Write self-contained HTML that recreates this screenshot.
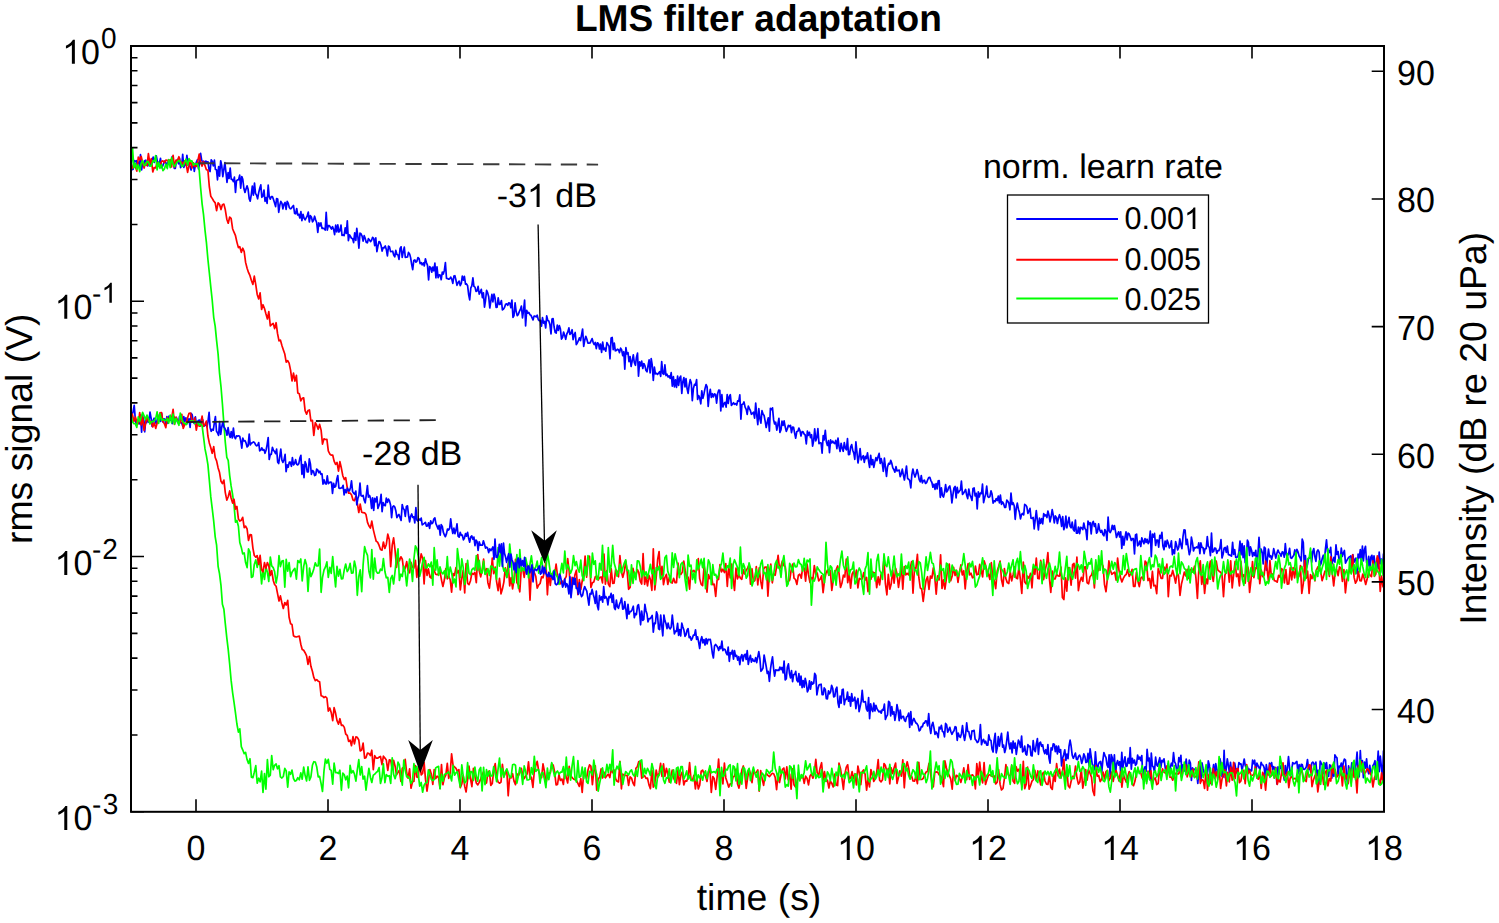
<!DOCTYPE html>
<html><head><meta charset="utf-8">
<style>
html,body{margin:0;padding:0;background:#fff;overflow:hidden;}
svg{display:block;}
text{font-family:"Liberation Sans",sans-serif;fill:#000;}
</style></head>
<body>
<svg width="1499" height="923" viewBox="0 0 1499 923" text-rendering="geometricPrecision">
<defs><path id="one" d="M 763 -0.0 L 583 -0.0 L 583 -1097.9 C 540 -1058.7 484 -1019.4 414 -980.2 C 344 -940.9 281 -911.3 225 -891.2 L 225 -1057.7 C 326 -1102.7 414 -1158.2 489 -1222.3 C 564 -1286.5 617 -1348.7 648 -1409.0 L 763 -1409.0 Z"/></defs>
<rect width="1499" height="923" fill="#fff"/>
<g>
<path d="M131.0 163.2 132.1 169.7 133.1 169.3 134.2 160.5 135.2 161.5 136.3 160.6 137.3 165.0 138.4 162.2 139.4 166.2 140.5 154.7 141.6 169.9 142.6 163.1 143.7 165.1 144.7 160.8 145.8 160.2 146.8 164.3 147.9 165.9 148.9 162.0 150.0 161.9 151.1 165.1 152.1 160.5 153.2 157.1 154.2 162.4 155.3 159.0 156.3 155.8 157.4 161.5 158.4 162.7 159.5 162.8 160.5 158.3 161.6 167.7 162.7 166.0 163.7 163.3 164.8 161.0 165.8 162.4 166.9 167.0 167.9 162.1 169.0 162.0 170.0 163.6 171.1 165.3 172.2 156.7 173.2 160.8 174.3 168.3 175.3 168.4 176.4 161.3 177.4 159.7 178.5 163.8 179.5 158.0 180.6 167.7 181.7 165.6 182.7 154.3 183.8 167.4 184.8 164.9 185.9 164.9 186.9 155.4 188.0 164.2 189.0 164.5 190.1 166.7 191.1 170.0 192.2 163.4 193.3 163.2 194.3 171.4 195.4 165.1 196.4 162.1 197.5 159.7 198.5 169.0 199.6 163.6 200.6 153.3 201.7 160.5 202.8 161.8 203.8 161.2 204.9 162.4 205.9 161.1 207.0 162.5 208.0 161.8 209.1 169.8 210.1 171.5 211.2 159.8 212.2 161.2 213.3 165.8 214.4 160.1 215.4 169.4 216.5 169.7 217.5 179.8 218.6 166.7 219.6 176.1 220.7 160.8 221.7 165.4 222.8 176.7 223.9 169.2 224.9 162.7 226.0 172.9 227.0 182.5 228.1 172.7 229.1 178.5 230.2 168.0 231.2 179.3 232.3 179.3 233.4 181.5 234.4 177.1 235.5 192.5 236.5 180.7 237.6 179.9 238.6 179.7 239.7 175.2 240.7 188.1 241.8 176.5 242.8 179.4 243.9 188.5 245.0 192.5 246.0 189.1 247.1 185.9 248.1 189.3 249.2 198.6 250.2 201.2 251.3 194.6 252.3 186.0 253.4 195.2 254.5 183.0 255.5 193.4 256.6 195.2 257.6 198.8 258.7 192.6 259.7 188.5 260.8 184.9 261.8 197.3 262.9 196.1 264.0 190.0 265.0 201.3 266.1 197.6 267.1 203.4 268.2 185.2 269.2 196.6 270.3 199.2 271.3 196.5 272.4 196.6 273.4 199.2 274.5 202.7 275.6 206.6 276.6 198.5 277.7 199.0 278.7 212.3 279.8 205.1 280.8 201.4 281.9 203.1 282.9 208.9 284.0 204.2 285.1 202.5 286.1 209.4 287.2 201.4 288.2 203.1 289.3 207.5 290.3 208.8 291.4 208.4 292.4 206.6 293.5 205.5 294.6 213.5 295.6 213.8 296.7 208.5 297.7 215.0 298.8 214.3 299.8 218.0 300.9 211.7 301.9 220.6 303.0 214.3 304.0 218.0 305.1 219.9 306.2 217.9 307.2 216.0 308.3 212.1 309.3 222.0 310.4 215.7 311.4 217.0 312.5 221.8 313.5 220.4 314.6 216.2 315.7 220.0 316.7 222.8 317.8 232.5 318.8 222.9 319.9 225.9 320.9 222.9 322.0 228.4 323.0 228.2 324.1 228.6 325.2 230.1 326.2 212.4 327.3 230.1 328.3 225.5 329.4 225.6 330.4 227.3 331.5 229.0 332.5 226.7 333.6 229.3 334.6 234.7 335.7 225.1 336.8 231.9 337.8 224.9 338.9 232.1 339.9 230.8 341.0 225.2 342.0 235.4 343.1 234.8 344.1 235.7 345.2 227.8 346.3 233.5 347.3 220.8 348.4 240.7 349.4 234.8 350.5 236.5 351.5 238.2 352.6 238.8 353.6 242.6 354.7 232.8 355.8 240.4 356.8 228.3 357.9 237.0 358.9 248.1 360.0 233.1 361.0 233.8 362.1 236.2 363.1 241.2 364.2 235.7 365.2 238.4 366.3 242.4 367.4 242.8 368.4 238.7 369.5 239.9 370.5 241.7 371.6 240.3 372.6 237.3 373.7 238.3 374.7 245.7 375.8 237.9 376.9 251.7 377.9 246.4 379.0 241.5 380.0 242.2 381.1 245.6 382.1 251.1 383.2 247.5 384.2 247.9 385.3 246.0 386.3 249.4 387.4 255.8 388.5 246.1 389.5 246.9 390.6 251.6 391.6 251.5 392.7 251.2 393.7 255.0 394.8 256.8 395.8 250.4 396.9 254.4 398.0 254.9 399.0 259.3 400.1 248.4 401.1 246.8 402.2 257.3 403.2 252.2 404.3 247.2 405.3 257.3 406.4 257.2 407.5 257.0 408.5 252.4 409.6 253.9 410.6 257.6 411.7 264.7 412.7 269.7 413.8 260.4 414.8 259.9 415.9 262.2 416.9 261.3 418.0 257.6 419.1 258.7 420.1 263.7 421.2 262.6 422.2 264.8 423.3 262.8 424.3 265.9 425.4 258.8 426.4 262.5 427.5 265.4 428.6 280.0 429.6 266.7 430.7 267.4 431.7 272.2 432.8 267.2 433.8 270.8 434.9 263.2 435.9 277.8 437.0 266.9 438.1 277.6 439.1 274.9 440.2 275.1 441.2 279.7 442.3 272.0 443.3 274.0 444.4 270.2 445.4 262.6 446.5 278.5 447.5 278.5 448.6 279.2 449.7 278.9 450.7 277.1 451.8 279.2 452.8 283.4 453.9 276.1 454.9 275.7 456.0 280.3 457.0 285.3 458.1 282.6 459.2 281.1 460.2 285.6 461.3 283.4 462.3 276.1 463.4 280.1 464.4 276.4 465.5 284.2 466.5 283.9 467.6 285.7 468.7 294.9 469.7 299.9 470.8 287.8 471.8 286.0 472.9 277.9 473.9 286.4 475.0 287.1 476.0 291.4 477.1 290.9 478.1 286.4 479.2 294.2 480.3 292.1 481.3 289.4 482.4 297.7 483.4 292.8 484.5 307.1 485.5 300.5 486.6 290.4 487.6 292.6 488.7 296.7 489.8 308.0 490.8 301.3 491.9 294.3 492.9 301.8 494.0 294.0 495.0 297.7 496.1 307.5 497.1 307.1 498.2 297.9 499.3 304.5 500.3 304.1 501.4 300.5 502.4 309.9 503.5 309.0 504.5 307.6 505.6 304.2 506.6 303.8 507.7 305.3 508.7 302.9 509.8 303.0 510.9 307.7 511.9 300.1 513.0 317.4 514.0 315.5 515.1 302.8 516.1 311.3 517.2 315.6 518.2 314.6 519.3 311.6 520.4 309.4 521.4 306.1 522.5 318.0 523.5 311.0 524.6 300.2 525.6 325.9 526.7 310.3 527.7 313.2 528.8 312.4 529.9 314.7 530.9 315.2 532.0 317.7 533.0 319.9 534.1 316.1 535.1 316.1 536.2 316.9 537.2 315.2 538.3 319.6 539.3 320.7 540.4 320.4 541.5 326.2 542.5 317.6 543.6 323.1 544.6 321.3 545.7 328.0 546.7 315.9 547.8 320.4 548.8 321.0 549.9 324.6 551.0 334.0 552.0 319.1 553.1 318.6 554.1 327.0 555.2 332.5 556.2 333.0 557.3 325.0 558.3 330.3 559.4 325.7 560.4 329.0 561.5 339.1 562.6 337.3 563.6 332.0 564.7 335.4 565.7 339.3 566.8 334.0 567.8 332.0 568.9 327.9 569.9 334.4 571.0 333.4 572.1 329.7 573.1 339.6 574.2 334.7 575.2 332.5 576.3 344.6 577.3 343.0 578.4 340.7 579.4 337.9 580.5 340.5 581.6 334.7 582.6 329.0 583.7 346.4 584.7 340.5 585.8 336.3 586.8 339.1 587.9 343.1 588.9 343.2 590.0 343.0 591.0 341.0 592.1 338.6 593.2 342.6 594.2 344.5 595.3 342.5 596.3 348.7 597.4 342.8 598.4 343.4 599.5 349.0 600.5 344.2 601.6 352.4 602.7 342.0 603.7 349.6 604.8 348.2 605.8 351.2 606.9 342.6 607.9 344.4 609.0 346.1 610.0 358.8 611.1 338.0 612.2 337.5 613.2 349.7 614.3 343.2 615.3 350.8 616.4 350.4 617.4 349.2 618.5 349.8 619.5 352.6 620.6 348.1 621.6 349.6 622.7 355.6 623.8 351.7 624.8 369.1 625.9 347.7 626.9 353.8 628.0 352.7 629.0 361.6 630.1 356.6 631.1 366.5 632.2 360.8 633.3 354.8 634.3 362.5 635.4 365.3 636.4 357.8 637.5 353.1 638.5 376.2 639.6 361.8 640.6 366.0 641.7 361.2 642.8 368.5 643.8 363.5 644.9 365.6 645.9 370.2 647.0 371.8 648.0 366.0 649.1 359.9 650.1 372.9 651.2 358.6 652.2 365.0 653.3 380.4 654.4 367.0 655.4 373.8 656.5 373.4 657.5 374.3 658.6 373.2 659.6 371.6 660.7 376.3 661.7 361.6 662.8 373.5 663.9 374.3 664.9 364.9 666.0 375.6 667.0 374.2 668.1 377.0 669.1 375.9 670.2 378.3 671.2 372.7 672.3 386.1 673.4 376.6 674.4 386.8 675.5 379.8 676.5 387.5 677.6 376.1 678.6 385.5 679.7 378.0 680.7 376.1 681.8 393.4 682.8 381.9 683.9 377.5 685.0 387.0 686.0 378.5 687.1 388.9 688.1 393.4 689.2 384.8 690.2 379.7 691.3 383.0 692.3 400.7 693.4 388.5 694.5 384.4 695.5 385.2 696.6 379.6 697.6 399.5 698.7 395.6 699.7 397.8 700.8 403.8 701.8 390.9 702.9 398.3 704.0 393.7 705.0 388.6 706.1 384.5 707.1 386.9 708.2 406.4 709.2 395.2 710.3 389.3 711.3 397.5 712.4 393.7 713.4 396.9 714.5 393.9 715.6 394.5 716.6 403.2 717.7 393.4 718.7 390.2 719.8 390.4 720.8 411.0 721.9 394.7 722.9 407.0 724.0 403.6 725.1 402.3 726.1 407.1 727.2 394.7 728.2 403.5 729.3 396.7 730.3 394.7 731.4 405.4 732.4 404.2 733.5 402.7 734.5 404.3 735.6 403.6 736.7 405.1 737.7 400.8 738.8 401.1 739.8 394.8 740.9 419.2 741.9 404.6 743.0 404.1 744.0 401.9 745.1 407.1 746.2 409.3 747.2 414.3 748.3 406.0 749.3 408.4 750.4 410.7 751.4 414.3 752.5 413.4 753.5 412.2 754.6 418.2 755.7 403.1 756.7 414.6 757.8 424.7 758.8 408.7 759.9 418.7 760.9 423.1 762.0 410.7 763.0 413.9 764.1 415.5 765.1 420.9 766.2 427.5 767.3 421.9 768.3 417.8 769.4 431.2 770.4 408.3 771.5 409.6 772.5 407.8 773.6 419.7 774.6 424.0 775.7 422.2 776.8 430.1 777.8 424.9 778.9 418.3 779.9 432.4 781.0 429.6 782.0 421.2 783.1 425.4 784.1 420.9 785.2 426.8 786.3 431.4 787.3 429.0 788.4 425.3 789.4 426.7 790.5 425.3 791.5 432.7 792.6 427.0 793.6 427.3 794.7 433.6 795.7 438.2 796.8 431.5 797.9 431.2 798.9 428.0 800.0 430.8 801.0 436.0 802.1 431.6 803.1 431.9 804.2 434.2 805.2 435.0 806.3 443.9 807.4 431.1 808.4 435.3 809.5 432.3 810.5 437.7 811.6 434.7 812.6 446.1 813.7 440.6 814.7 428.8 815.8 440.8 816.9 437.3 817.9 428.7 819.0 443.7 820.0 442.7 821.1 443.1 822.1 453.1 823.2 435.5 824.2 439.9 825.3 430.4 826.3 441.5 827.4 445.5 828.5 440.7 829.5 452.7 830.6 439.9 831.6 443.0 832.7 441.1 833.7 442.8 834.8 443.5 835.8 440.3 836.9 448.6 838.0 438.0 839.0 446.4 840.1 451.5 841.1 443.3 842.2 448.3 843.2 451.3 844.3 442.6 845.3 448.1 846.4 449.8 847.5 438.7 848.5 454.7 849.6 454.4 850.6 447.1 851.7 444.6 852.7 450.2 853.8 453.1 854.8 459.3 855.9 441.8 856.9 451.9 858.0 463.0 859.1 456.3 860.1 448.7 861.2 459.8 862.2 457.5 863.3 455.7 864.3 462.3 865.4 456.3 866.4 458.5 867.5 452.8 868.6 461.3 869.6 467.4 870.7 455.3 871.7 464.7 872.8 459.5 873.8 467.3 874.9 461.9 875.9 457.6 877.0 460.6 878.1 456.5 879.1 453.4 880.2 463.5 881.2 458.7 882.3 463.4 883.3 471.3 884.4 458.2 885.4 466.8 886.5 476.5 887.5 466.9 888.6 463.4 889.7 464.2 890.7 460.4 891.8 463.4 892.8 467.9 893.9 469.7 894.9 472.2 896.0 466.7 897.0 471.0 898.1 470.5 899.2 470.1 900.2 476.7 901.3 473.7 902.3 469.2 903.4 475.1 904.4 480.0 905.5 472.7 906.5 466.0 907.6 478.5 908.7 479.2 909.7 480.5 910.8 487.9 911.8 475.2 912.9 469.0 913.9 473.4 915.0 477.1 916.0 474.1 917.1 469.5 918.1 473.7 919.2 479.7 920.3 481.8 921.3 475.5 922.4 483.0 923.4 480.6 924.5 480.2 925.5 483.5 926.6 482.6 927.6 480.0 928.7 477.5 929.8 477.3 930.8 480.3 931.9 482.5 932.9 487.2 934.0 484.2 935.0 489.4 936.1 483.5 937.1 488.8 938.2 480.9 939.2 480.7 940.3 497.3 941.4 487.8 942.4 495.5 943.5 497.0 944.5 492.8 945.6 484.5 946.6 492.0 947.7 490.5 948.7 487.2 949.8 486.0 950.9 492.0 951.9 502.8 953.0 494.2 954.0 488.0 955.1 486.4 956.1 498.0 957.2 487.3 958.2 492.9 959.3 491.2 960.4 490.0 961.4 481.1 962.5 494.4 963.5 493.2 964.6 491.6 965.6 489.4 966.7 495.3 967.7 498.6 968.8 489.0 969.8 494.6 970.9 497.1 972.0 500.5 973.0 488.4 974.1 487.9 975.1 495.9 976.2 493.3 977.2 508.9 978.3 491.9 979.3 497.0 980.4 493.1 981.5 493.6 982.5 484.2 983.6 502.6 984.6 498.0 985.7 494.1 986.7 486.2 987.8 496.6 988.8 497.4 989.9 496.6 991.0 490.8 992.0 493.9 993.1 503.2 994.1 500.8 995.2 501.5 996.2 498.5 997.3 500.6 998.3 496.0 999.4 502.9 1000.4 495.2 1001.5 504.3 1002.6 502.0 1003.6 503.7 1004.7 507.5 1005.7 507.4 1006.8 500.0 1007.8 501.2 1008.9 503.4 1009.9 509.8 1011.0 493.1 1012.1 504.6 1013.1 502.7 1014.2 505.7 1015.2 519.3 1016.3 508.2 1017.3 503.1 1018.4 509.2 1019.4 512.3 1020.5 518.9 1021.6 514.4 1022.6 513.5 1023.7 514.9 1024.7 504.4 1025.8 505.1 1026.8 506.6 1027.9 513.4 1028.9 511.2 1030.0 508.3 1031.0 518.1 1032.1 518.4 1033.2 517.5 1034.2 529.0 1035.3 519.1 1036.3 510.6 1037.4 520.7 1038.4 530.0 1039.5 518.2 1040.5 523.3 1041.6 518.7 1042.7 523.9 1043.7 513.6 1044.8 515.9 1045.8 514.8 1046.9 517.5 1047.9 511.0 1049.0 515.2 1050.0 521.8 1051.1 516.8 1052.2 509.6 1053.2 515.0 1054.3 523.0 1055.3 515.9 1056.4 517.4 1057.4 523.5 1058.5 518.0 1059.5 514.7 1060.6 518.6 1061.6 526.5 1062.7 516.6 1063.8 529.6 1064.8 526.7 1065.9 516.2 1066.9 527.9 1068.0 522.4 1069.0 517.4 1070.1 526.3 1071.1 527.9 1072.2 522.1 1073.3 529.5 1074.3 531.0 1075.4 520.1 1076.4 533.2 1077.5 533.1 1078.5 527.0 1079.6 533.7 1080.6 527.4 1081.7 527.7 1082.8 529.7 1083.8 523.0 1084.9 528.4 1085.9 529.8 1087.0 539.7 1088.0 521.0 1089.1 524.5 1090.1 522.7 1091.2 533.9 1092.2 523.1 1093.3 521.4 1094.4 526.5 1095.4 523.7 1096.5 533.2 1097.5 531.7 1098.6 523.9 1099.6 529.6 1100.7 532.3 1101.7 530.3 1102.8 534.2 1103.9 535.8 1104.9 529.5 1106.0 531.8 1107.0 540.4 1108.1 517.0 1109.1 530.7 1110.2 532.6 1111.2 530.4 1112.3 525.3 1113.3 529.5 1114.4 525.5 1115.5 531.3 1116.5 537.5 1117.6 534.2 1118.6 531.8 1119.7 537.0 1120.7 531.9 1121.8 548.5 1122.8 536.3 1123.9 545.2 1125.0 537.3 1126.0 531.9 1127.1 539.8 1128.1 533.1 1129.2 534.0 1130.2 536.8 1131.3 540.5 1132.3 538.7 1133.4 538.6 1134.5 553.9 1135.5 534.9 1136.6 534.1 1137.6 545.8 1138.7 544.2 1139.7 541.1 1140.8 546.5 1141.8 537.9 1142.9 541.1 1143.9 543.7 1145.0 538.5 1146.1 542.5 1147.1 539.2 1148.2 543.6 1149.2 541.6 1150.3 531.2 1151.3 556.7 1152.4 534.2 1153.4 537.1 1154.5 533.4 1155.6 545.5 1156.6 540.1 1157.7 540.0 1158.7 547.1 1159.8 535.3 1160.8 538.0 1161.9 532.4 1162.9 545.9 1164.0 549.7 1165.1 541.2 1166.1 546.7 1167.2 540.2 1168.2 543.0 1169.3 547.9 1170.3 546.6 1171.4 540.9 1172.4 554.6 1173.5 549.8 1174.5 553.6 1175.6 541.5 1176.7 545.8 1177.7 550.0 1178.8 547.2 1179.8 538.8 1180.9 544.8 1181.9 548.6 1183.0 536.6 1184.0 529.9 1185.1 530.0 1186.2 544.6 1187.2 539.4 1188.3 547.8 1189.3 554.7 1190.4 550.4 1191.4 537.1 1192.5 542.9 1193.5 551.0 1194.6 547.7 1195.7 547.8 1196.7 546.9 1197.8 547.9 1198.8 542.8 1199.9 553.7 1200.9 542.9 1202.0 547.4 1203.0 547.5 1204.1 553.7 1205.1 548.5 1206.2 548.6 1207.3 536.7 1208.3 546.4 1209.4 547.3 1210.4 555.7 1211.5 533.1 1212.5 552.1 1213.6 551.6 1214.6 548.0 1215.7 548.3 1216.8 553.4 1217.8 550.7 1218.9 550.6 1219.9 547.9 1221.0 539.7 1222.0 558.0 1223.1 554.3 1224.1 548.2 1225.2 547.5 1226.3 552.3 1227.3 546.2 1228.4 554.7 1229.4 554.8 1230.5 555.6 1231.5 556.1 1232.6 542.3 1233.6 554.4 1234.7 549.7 1235.7 557.5 1236.8 557.4 1237.9 556.3 1238.9 552.0 1240.0 541.1 1241.0 554.8 1242.1 543.5 1243.1 557.7 1244.2 545.8 1245.2 562.7 1246.3 558.2 1247.4 540.0 1248.4 542.4 1249.5 555.4 1250.5 546.9 1251.6 550.5 1252.6 556.3 1253.7 552.6 1254.7 555.5 1255.8 550.3 1256.9 566.9 1257.9 555.2 1259.0 537.3 1260.0 553.9 1261.1 549.0 1262.1 552.2 1263.2 564.0 1264.2 547.0 1265.3 548.2 1266.3 570.2 1267.4 558.6 1268.5 549.0 1269.5 556.9 1270.6 555.7 1271.6 559.2 1272.7 555.1 1273.7 548.7 1274.8 553.6 1275.8 558.1 1276.9 553.3 1278.0 550.0 1279.0 552.5 1280.1 553.7 1281.1 556.3 1282.2 551.9 1283.2 552.2 1284.3 557.2 1285.3 543.7 1286.4 554.9 1287.4 555.9 1288.5 554.1 1289.6 548.4 1290.6 557.7 1291.7 558.3 1292.7 556.7 1293.8 555.2 1294.8 549.9 1295.9 556.3 1296.9 549.4 1298.0 551.9 1299.1 556.0 1300.1 557.7 1301.2 560.9 1302.2 539.0 1303.3 542.5 1304.3 566.3 1305.4 555.5 1306.4 568.0 1307.5 564.4 1308.6 558.0 1309.6 558.1 1310.7 551.6 1311.7 562.1 1312.8 551.6 1313.8 548.6 1314.9 556.9 1315.9 561.4 1317.0 551.7 1318.0 549.9 1319.1 552.1 1320.2 565.5 1321.2 563.1 1322.3 558.2 1323.3 555.2 1324.4 560.9 1325.4 549.4 1326.5 539.9 1327.5 551.6 1328.6 550.5 1329.7 552.6 1330.7 547.4 1331.8 563.9 1332.8 561.2 1333.9 557.4 1334.9 562.1 1336.0 544.9 1337.0 554.5 1338.1 551.6 1339.2 561.0 1340.2 561.3 1341.3 548.0 1342.3 556.5 1343.4 553.0 1344.4 550.5 1345.5 563.2 1346.5 561.0 1347.6 559.1 1348.6 557.5 1349.7 556.8 1350.8 555.8 1351.8 563.2 1352.9 554.5 1353.9 562.5 1355.0 559.3 1356.0 558.1 1357.1 573.8 1358.1 554.0 1359.2 557.8 1360.3 549.7 1361.3 561.3 1362.4 546.1 1363.4 561.0 1364.5 549.6 1365.5 546.3 1366.6 562.8 1367.6 566.0 1368.7 556.4 1369.8 570.7 1370.8 557.1 1371.9 555.3 1372.9 563.7 1374.0 555.8 1375.0 563.1 1376.1 569.7 1377.1 558.2 1378.2 568.5 1379.2 552.1 1380.3 563.7 1381.4 559.0 1382.4 572.2 1383.5 553.6" fill="none" stroke="#0000ff" stroke-width="1.7" stroke-linejoin="round"/>
<path d="M131.0 163.0 132.5 168.2 133.9 166.7 135.4 166.6 136.8 171.1 138.3 157.0 139.7 159.9 141.2 156.5 142.6 162.5 144.1 168.1 145.5 163.0 147.0 165.6 148.4 153.6 149.9 163.9 151.3 158.6 152.8 171.9 154.2 167.5 155.7 167.9 157.1 162.9 158.6 166.2 160.0 166.4 161.5 161.5 162.9 160.8 164.4 162.7 165.8 160.2 167.3 160.3 168.7 161.9 170.2 159.7 171.6 167.0 173.1 155.4 174.5 167.3 176.0 160.2 177.4 160.6 178.9 156.7 180.3 162.6 181.8 162.1 183.2 164.3 184.7 160.8 186.1 163.8 187.6 172.3 189.0 165.4 190.5 160.6 191.9 168.0 193.4 162.8 194.8 166.3 196.3 166.4 197.7 161.5 199.2 154.1 200.6 161.8 202.1 166.1 203.5 161.6 205.0 165.6 206.4 169.7 207.9 170.1 209.3 186.5 210.8 196.3 212.2 198.4 213.7 201.0 215.2 202.9 216.6 210.7 218.1 202.9 219.5 204.3 221.0 209.6 222.4 204.8 223.9 204.1 225.3 209.8 226.8 219.2 228.2 223.2 229.7 217.0 231.1 218.3 232.6 228.7 234.0 232.2 235.5 235.7 236.9 242.1 238.4 247.6 239.8 246.7 241.3 252.4 242.7 248.2 244.2 251.7 245.6 262.4 247.1 268.3 248.5 272.4 250.0 275.7 251.4 280.5 252.9 284.4 254.3 276.2 255.8 284.9 257.2 294.4 258.7 298.9 260.1 292.9 261.6 309.4 263.0 304.7 264.5 308.5 265.9 313.8 267.4 319.0 268.8 311.6 270.3 325.9 271.7 324.5 273.2 323.4 274.6 328.6 276.1 322.7 277.5 333.4 279.0 340.8 280.4 340.1 281.9 345.4 283.3 349.7 284.8 354.1 286.2 362.1 287.7 360.7 289.1 363.1 290.6 370.3 292.0 381.0 293.5 373.2 294.9 381.1 296.4 375.4 297.8 393.0 299.3 393.8 300.8 400.9 302.2 398.4 303.7 397.8 305.1 410.7 306.6 414.1 308.0 410.6 309.5 410.0 310.9 421.0 312.4 420.3 313.8 435.3 315.3 422.7 316.7 425.2 318.2 429.3 319.6 424.4 321.1 430.1 322.5 444.1 324.0 438.8 325.4 439.5 326.9 439.4 328.3 450.8 329.8 454.0 331.2 455.1 332.7 455.0 334.1 461.1 335.6 464.3 337.0 462.4 338.5 471.2 339.9 461.7 341.4 468.3 342.8 475.7 344.3 479.5 345.7 477.6 347.2 487.3 348.6 493.2 350.1 493.1 351.5 494.7 353.0 500.0 354.4 500.7 355.9 496.3 357.3 503.2 358.8 512.5 360.2 504.2 361.7 512.2 363.1 512.7 364.6 512.8 366.0 514.6 367.5 522.4 368.9 525.8 370.4 528.1 371.8 521.1 373.3 529.6 374.7 535.4 376.2 541.2 377.6 542.1 379.1 545.4 380.5 549.5 382.0 550.2 383.4 542.0 384.9 548.5 386.3 544.4 387.8 534.1 389.3 539.6 390.7 566.6 392.2 545.1 393.6 537.8 395.1 550.7 396.5 567.3 398.0 556.6 399.4 561.0 400.9 556.8 402.3 559.2 403.8 571.1 405.2 568.2 406.7 561.6 408.1 570.5 409.6 572.9 411.0 562.4 412.5 567.4 413.9 567.9 415.4 560.3 416.8 577.3 418.3 566.1 419.7 562.7 421.2 553.9 422.6 558.3 424.1 584.0 425.5 560.7 427.0 575.5 428.4 568.8 429.9 577.0 431.3 578.1 432.8 565.9 434.2 570.5 435.7 574.3 437.1 574.7 438.6 573.7 440.0 571.4 441.5 580.1 442.9 586.5 444.4 579.8 445.8 568.5 447.3 579.0 448.7 576.0 450.2 579.7 451.6 592.1 453.1 573.6 454.5 575.4 456.0 567.5 457.4 572.9 458.9 570.4 460.3 589.9 461.8 578.2 463.2 570.4 464.7 592.9 466.1 563.5 467.6 583.3 469.0 584.6 470.5 580.7 471.9 573.1 473.4 574.3 474.9 572.4 476.3 582.6 477.8 554.5 479.2 570.9 480.7 576.9 482.1 570.3 483.6 559.1 485.0 573.3 486.5 568.7 487.9 582.7 489.4 588.1 490.8 576.1 492.3 558.1 493.7 573.7 495.2 567.2 496.6 581.6 498.1 590.7 499.5 578.4 501.0 593.8 502.4 589.1 503.9 581.8 505.3 567.8 506.8 577.4 508.2 563.4 509.7 585.9 511.1 577.6 512.6 589.0 514.0 579.3 515.5 559.3 516.9 582.6 518.4 585.2 519.8 591.8 521.3 568.1 522.7 568.5 524.2 577.4 525.6 567.3 527.1 564.4 528.5 566.9 530.0 600.1 531.4 571.0 532.9 567.5 534.3 572.5 535.8 576.5 537.2 588.1 538.7 585.0 540.1 583.5 541.6 576.8 543.0 577.8 544.5 570.7 545.9 562.9 547.4 594.8 548.8 572.3 550.3 585.5 551.7 573.5 553.2 575.6 554.6 575.0 556.1 564.0 557.5 575.7 559.0 579.8 560.4 583.8 561.9 580.8 563.4 585.5 564.8 579.0 566.3 576.3 567.7 558.6 569.2 571.5 570.6 590.3 572.1 577.4 573.5 583.4 575.0 574.4 576.4 570.2 577.9 594.7 579.3 579.5 580.8 589.7 582.2 581.0 583.7 573.6 585.1 556.1 586.6 577.1 588.0 562.1 589.5 556.2 590.9 587.4 592.4 582.7 593.8 582.0 595.3 576.7 596.7 575.9 598.2 580.0 599.6 577.6 601.1 576.9 602.5 582.9 604.0 554.1 605.4 584.2 606.9 570.5 608.3 583.9 609.8 586.7 611.2 568.5 612.7 583.3 614.1 583.1 615.6 569.6 617.0 571.1 618.5 576.8 619.9 555.7 621.4 571.7 622.8 577.3 624.3 571.6 625.7 561.2 627.2 572.1 628.6 589.3 630.1 587.5 631.5 574.5 633.0 568.3 634.4 575.4 635.9 575.7 637.3 569.5 638.8 572.5 640.2 581.2 641.7 584.0 643.1 553.6 644.6 584.3 646.0 576.8 647.5 585.9 649.0 575.4 650.4 579.5 651.9 590.3 653.3 548.8 654.8 589.9 656.2 577.2 657.7 559.1 659.1 551.5 660.6 578.3 662.0 566.3 663.5 584.6 664.9 577.5 666.4 574.3 667.8 584.5 669.3 577.3 670.7 582.2 672.2 583.0 673.6 578.4 675.1 582.6 676.5 582.6 678.0 563.2 679.4 573.1 680.9 574.4 682.3 572.1 683.8 561.2 685.2 570.4 686.7 578.6 688.1 577.2 689.6 589.2 691.0 570.0 692.5 571.6 693.9 570.4 695.4 572.7 696.8 570.1 698.3 558.7 699.7 578.6 701.2 584.4 702.6 585.6 704.1 565.7 705.5 573.8 707.0 592.2 708.4 574.5 709.9 578.6 711.3 574.1 712.8 584.6 714.2 584.2 715.7 596.5 717.1 580.0 718.6 579.5 720.0 564.6 721.5 571.8 722.9 569.2 724.4 572.5 725.8 563.7 727.3 586.5 728.7 566.0 730.2 578.0 731.6 564.2 733.1 578.6 734.5 590.4 736.0 568.1 737.5 578.8 738.9 574.9 740.4 578.1 741.8 579.3 743.3 569.8 744.7 573.9 746.2 570.2 747.6 568.1 749.1 564.4 750.5 584.2 752.0 568.9 753.4 581.5 754.9 580.5 756.3 566.5 757.8 584.9 759.2 567.8 760.7 581.2 762.1 588.6 763.6 569.1 765.0 567.1 766.5 567.0 767.9 596.2 769.4 572.1 770.8 564.1 772.3 582.8 773.7 573.9 775.2 575.2 776.6 566.5 778.1 555.4 779.5 568.9 781.0 566.0 782.4 560.8 783.9 565.6 785.3 566.9 786.8 582.7 788.2 581.8 789.7 580.0 791.1 570.6 792.6 564.1 794.0 578.1 795.5 579.5 796.9 584.4 798.4 575.2 799.8 574.2 801.3 578.2 802.7 567.1 804.2 568.2 805.6 581.2 807.1 564.1 808.5 574.7 810.0 582.5 811.4 577.5 812.9 579.3 814.3 565.5 815.8 574.3 817.2 573.0 818.7 580.9 820.1 579.3 821.6 575.8 823.1 592.6 824.5 580.4 826.0 573.0 827.4 570.1 828.9 575.3 830.3 570.5 831.8 590.4 833.2 580.8 834.7 572.9 836.1 569.8 837.6 566.0 839.0 573.2 840.5 587.5 841.9 583.3 843.4 575.2 844.8 577.0 846.3 559.0 847.7 582.6 849.2 573.8 850.6 588.1 852.1 574.2 853.5 571.4 855.0 577.7 856.4 570.1 857.9 587.9 859.3 578.4 860.8 579.1 862.2 578.9 863.7 572.7 865.1 580.2 866.6 577.5 868.0 591.7 869.5 576.5 870.9 579.3 872.4 571.9 873.8 572.6 875.3 573.3 876.7 587.7 878.2 576.9 879.6 584.9 881.1 573.9 882.5 573.0 884.0 558.9 885.4 583.7 886.9 594.8 888.3 574.3 889.8 589.2 891.2 584.0 892.7 570.2 894.1 583.2 895.6 568.3 897.0 573.7 898.5 587.4 899.9 577.8 901.4 565.8 902.8 589.1 904.3 566.5 905.7 574.9 907.2 573.3 908.7 574.9 910.1 568.7 911.6 561.7 913.0 593.1 914.5 567.9 915.9 568.4 917.4 554.4 918.8 577.2 920.3 588.0 921.7 589.0 923.2 601.3 924.6 589.9 926.1 580.1 927.5 576.7 929.0 589.3 930.4 576.1 931.9 578.2 933.3 567.8 934.8 577.4 936.2 594.2 937.7 575.8 939.1 580.0 940.6 554.8 942.0 588.5 943.5 579.8 944.9 589.1 946.4 578.6 947.8 568.7 949.3 564.1 950.7 580.8 952.2 576.0 953.6 567.4 955.1 575.5 956.5 570.4 958.0 582.5 959.4 572.3 960.9 564.9 962.3 575.0 963.8 570.7 965.2 589.0 966.7 571.5 968.1 563.7 969.6 575.0 971.0 573.2 972.5 577.8 973.9 577.3 975.4 566.0 976.8 574.8 978.3 574.3 979.7 564.4 981.2 570.0 982.6 576.9 984.1 560.8 985.5 565.3 987.0 570.8 988.4 574.1 989.9 579.5 991.3 562.7 992.8 577.5 994.2 580.4 995.7 588.7 997.2 571.0 998.6 566.5 1000.1 561.0 1001.5 579.7 1003.0 586.3 1004.4 568.6 1005.9 578.8 1007.3 582.6 1008.8 583.5 1010.2 571.4 1011.7 580.9 1013.1 574.7 1014.6 566.8 1016.0 577.7 1017.5 578.7 1018.9 566.8 1020.4 579.5 1021.8 593.5 1023.3 562.1 1024.7 581.9 1026.2 583.9 1027.6 576.1 1029.1 578.6 1030.5 573.3 1032.0 587.8 1033.4 567.2 1034.9 574.3 1036.3 558.1 1037.8 578.4 1039.2 578.8 1040.7 560.3 1042.1 567.5 1043.6 579.6 1045.0 570.9 1046.5 564.3 1047.9 552.7 1049.4 578.3 1050.8 592.5 1052.3 571.0 1053.7 579.0 1055.2 578.8 1056.6 574.3 1058.1 575.9 1059.5 576.1 1061.0 567.2 1062.4 597.5 1063.9 599.5 1065.3 577.8 1066.8 591.1 1068.2 567.6 1069.7 573.0 1071.1 585.2 1072.6 564.7 1074.0 563.3 1075.5 578.1 1076.9 557.2 1078.4 590.6 1079.8 581.9 1081.3 577.4 1082.8 581.3 1084.2 567.1 1085.7 566.8 1087.1 582.8 1088.6 583.8 1090.0 576.7 1091.5 575.0 1092.9 570.6 1094.4 588.0 1095.8 562.1 1097.3 567.7 1098.7 570.6 1100.2 561.7 1101.6 563.5 1103.1 566.2 1104.5 584.6 1106.0 591.7 1107.4 578.6 1108.9 560.9 1110.3 570.0 1111.8 574.3 1113.2 573.1 1114.7 572.2 1116.1 580.2 1117.6 558.0 1119.0 570.3 1120.5 577.5 1121.9 582.0 1123.4 578.1 1124.8 575.7 1126.3 574.3 1127.7 569.6 1129.2 576.4 1130.6 573.8 1132.1 569.4 1133.5 586.5 1135.0 586.4 1136.4 572.4 1137.9 581.3 1139.3 586.6 1140.8 578.2 1142.2 577.0 1143.7 580.3 1145.1 561.0 1146.6 563.0 1148.0 580.6 1149.5 578.4 1150.9 588.2 1152.4 571.4 1153.8 585.8 1155.3 585.4 1156.7 593.7 1158.2 568.7 1159.6 572.7 1161.1 578.4 1162.5 578.3 1164.0 567.0 1165.4 570.8 1166.9 564.2 1168.3 596.7 1169.8 575.4 1171.3 575.9 1172.7 570.4 1174.2 576.2 1175.6 583.1 1177.1 573.0 1178.5 575.7 1180.0 595.5 1181.4 584.3 1182.9 578.1 1184.3 572.2 1185.8 575.8 1187.2 569.3 1188.7 578.4 1190.1 569.9 1191.6 569.4 1193.0 572.2 1194.5 566.2 1195.9 577.6 1197.4 598.4 1198.8 570.1 1200.3 560.8 1201.7 584.3 1203.2 574.7 1204.6 593.4 1206.1 578.9 1207.5 583.8 1209.0 568.5 1210.4 561.1 1211.9 573.7 1213.3 581.3 1214.8 567.5 1216.2 561.0 1217.7 569.9 1219.1 571.2 1220.6 572.2 1222.0 574.8 1223.5 596.6 1224.9 575.3 1226.4 570.6 1227.8 565.3 1229.3 582.2 1230.7 560.8 1232.2 587.9 1233.6 574.9 1235.1 561.4 1236.5 576.6 1238.0 573.9 1239.4 585.9 1240.9 561.4 1242.3 576.7 1243.8 574.7 1245.2 583.1 1246.7 564.7 1248.1 567.9 1249.6 592.5 1251.0 579.8 1252.5 561.6 1253.9 577.7 1255.4 567.8 1256.9 568.6 1258.3 563.9 1259.8 583.6 1261.2 570.0 1262.7 576.6 1264.1 575.5 1265.6 561.2 1267.0 568.1 1268.5 581.7 1269.9 560.7 1271.4 577.0 1272.8 573.9 1274.3 580.6 1275.7 581.0 1277.2 582.2 1278.6 575.4 1280.1 577.1 1281.5 568.5 1283.0 570.0 1284.4 582.9 1285.9 569.5 1287.3 584.1 1288.8 583.9 1290.2 567.7 1291.7 579.9 1293.1 567.6 1294.6 578.0 1296.0 568.0 1297.5 577.9 1298.9 576.5 1300.4 565.6 1301.8 593.4 1303.3 583.6 1304.7 560.6 1306.2 578.1 1307.6 571.2 1309.1 593.4 1310.5 574.5 1312.0 578.6 1313.4 573.4 1314.9 580.8 1316.3 570.3 1317.8 567.0 1319.2 570.6 1320.7 571.3 1322.1 580.7 1323.6 575.9 1325.0 571.1 1326.5 571.5 1327.9 566.9 1329.4 576.3 1330.8 556.9 1332.3 573.2 1333.7 585.8 1335.2 571.9 1336.6 569.3 1338.1 575.6 1339.5 566.8 1341.0 568.4 1342.4 581.3 1343.9 569.5 1345.4 592.8 1346.8 580.0 1348.3 574.3 1349.7 569.6 1351.2 572.9 1352.6 554.8 1354.1 577.4 1355.5 583.2 1357.0 580.3 1358.4 571.3 1359.9 580.7 1361.3 580.9 1362.8 574.0 1364.2 578.3 1365.7 584.5 1367.1 579.3 1368.6 571.8 1370.0 575.3 1371.5 576.6 1372.9 560.8 1374.4 576.4 1375.8 574.1 1377.3 555.8 1378.7 559.9 1380.2 591.4 1381.6 576.2 1383.1 587.3" fill="none" stroke="#ff0000" stroke-width="1.7" stroke-linejoin="round"/>
<path d="M131.0 172.1 132.5 147.8 133.9 167.7 135.4 163.3 136.8 169.3 138.3 164.8 139.7 171.6 141.2 163.1 142.6 160.6 144.1 165.6 145.5 164.9 147.0 161.4 148.4 161.9 149.9 166.1 151.3 166.0 152.8 160.9 154.2 161.5 155.7 155.5 157.1 169.9 158.6 162.1 160.0 168.3 161.5 164.6 162.9 170.6 164.4 168.9 165.8 164.2 167.3 168.6 168.7 159.5 170.2 167.6 171.6 157.7 173.1 164.2 174.5 166.7 176.0 163.8 177.4 161.8 178.9 160.3 180.3 161.9 181.8 166.4 183.2 165.9 184.7 162.2 186.1 159.1 187.6 165.1 189.0 158.7 190.5 161.4 191.9 160.9 193.4 165.1 194.8 163.7 196.3 164.3 197.7 163.7 199.2 170.2 200.6 187.5 202.1 203.8 203.5 214.3 205.0 230.1 206.4 242.3 207.9 259.3 209.3 272.5 210.8 287.2 212.2 300.0 213.7 317.3 215.2 326.4 216.6 340.6 218.1 354.1 219.5 372.8 221.0 386.8 222.4 403.8 223.9 424.3 225.3 442.4 226.8 457.4 228.2 460.3 229.7 475.6 231.1 485.9 232.6 494.5 234.0 504.8 235.5 522.1 236.9 520.5 238.4 526.2 239.8 542.5 241.3 547.4 242.7 553.8 244.2 552.9 245.6 562.6 247.1 567.6 248.5 548.8 250.0 552.0 251.4 577.5 252.9 576.5 254.3 564.4 255.8 559.8 257.2 567.3 258.7 558.3 260.1 565.9 261.6 583.9 263.0 570.2 264.5 579.5 265.9 567.0 267.4 572.3 268.8 581.5 270.3 557.0 271.7 565.9 273.2 567.6 274.6 571.5 276.1 583.0 277.5 575.2 279.0 555.5 280.4 566.6 281.9 561.0 283.3 560.7 284.8 587.2 286.2 559.4 287.7 571.1 289.1 562.6 290.6 576.7 292.0 572.2 293.5 570.1 294.9 568.3 296.4 579.2 297.8 560.6 299.3 562.5 300.8 559.0 302.2 581.0 303.7 566.4 305.1 559.7 306.6 565.2 308.0 591.5 309.5 568.0 310.9 576.7 312.4 573.2 313.8 568.9 315.3 562.8 316.7 566.0 318.2 565.8 319.6 549.1 321.1 592.3 322.5 577.3 324.0 570.0 325.4 567.2 326.9 561.9 328.3 577.5 329.8 567.3 331.2 573.3 332.7 556.5 334.1 572.4 335.6 587.0 337.0 566.4 338.5 576.2 339.9 569.3 341.4 578.9 342.8 578.6 344.3 569.6 345.7 564.0 347.2 571.6 348.6 569.4 350.1 563.4 351.5 573.1 353.0 572.9 354.4 561.0 355.9 568.0 357.3 595.3 358.8 576.4 360.2 569.9 361.7 591.6 363.1 564.9 364.6 546.7 366.0 551.8 367.5 555.3 368.9 571.3 370.4 577.8 371.8 549.5 373.3 579.1 374.7 558.0 376.2 571.3 377.6 573.2 379.1 572.9 380.5 569.1 382.0 570.5 383.4 558.7 384.9 571.5 386.3 577.8 387.8 577.3 389.3 592.5 390.7 578.7 392.2 575.5 393.6 584.0 395.1 571.2 396.5 557.4 398.0 548.8 399.4 580.5 400.9 574.1 402.3 576.6 403.8 566.0 405.2 572.1 406.7 585.9 408.1 572.0 409.6 559.0 411.0 565.1 412.5 581.5 413.9 559.2 415.4 545.8 416.8 548.4 418.3 556.9 419.7 576.2 421.2 569.8 422.6 562.2 424.1 557.4 425.5 568.0 427.0 567.6 428.4 563.9 429.9 566.8 431.3 562.1 432.8 585.2 434.2 547.7 435.7 570.1 437.1 559.9 438.6 575.4 440.0 566.9 441.5 572.3 442.9 573.8 444.4 570.8 445.8 577.9 447.3 556.5 448.7 577.6 450.2 567.0 451.6 572.4 453.1 583.0 454.5 579.1 456.0 586.9 457.4 548.7 458.9 560.4 460.3 577.7 461.8 558.8 463.2 567.4 464.7 584.4 466.1 576.9 467.6 560.3 469.0 573.1 470.5 574.8 471.9 569.6 473.4 568.1 474.9 570.3 476.3 555.5 477.8 570.1 479.2 560.3 480.7 572.5 482.1 572.9 483.6 561.0 485.0 574.5 486.5 572.2 487.9 568.6 489.4 575.5 490.8 566.2 492.3 566.4 493.7 569.7 495.2 568.5 496.6 579.3 498.1 547.6 499.5 566.2 501.0 550.9 502.4 564.3 503.9 571.1 505.3 568.8 506.8 577.5 508.2 571.6 509.7 544.0 511.1 558.6 512.6 582.6 514.0 582.6 515.5 569.5 516.9 554.6 518.4 588.1 519.8 549.6 521.3 571.3 522.7 568.0 524.2 570.6 525.6 557.8 527.1 564.7 528.5 578.0 530.0 563.9 531.4 555.8 532.9 568.1 534.3 569.1 535.8 567.0 537.2 561.1 538.7 573.1 540.1 567.1 541.6 557.6 543.0 570.2 544.5 567.9 545.9 569.5 547.4 552.9 548.8 561.3 550.3 572.4 551.7 576.7 553.2 571.4 554.6 569.8 556.1 574.9 557.5 577.3 559.0 584.4 560.4 572.7 561.9 563.4 563.4 572.9 564.8 551.1 566.3 569.2 567.7 564.7 569.2 568.5 570.6 573.2 572.1 569.3 573.5 555.7 575.0 565.6 576.4 561.6 577.9 568.7 579.3 572.1 580.8 560.2 582.2 575.5 583.7 580.6 585.1 566.5 586.6 575.5 588.0 555.6 589.5 564.1 590.9 577.6 592.4 553.1 593.8 564.4 595.3 560.9 596.7 579.3 598.2 579.3 599.6 563.3 601.1 570.1 602.5 545.4 604.0 576.6 605.4 572.1 606.9 580.9 608.3 547.5 609.8 572.1 611.2 565.8 612.7 545.4 614.1 562.7 615.6 568.2 617.0 576.2 618.5 570.7 619.9 564.3 621.4 573.0 622.8 568.0 624.3 563.1 625.7 559.8 627.2 570.3 628.6 570.4 630.1 585.5 631.5 564.9 633.0 583.4 634.4 572.1 635.9 579.6 637.3 560.8 638.8 561.1 640.2 566.2 641.7 577.0 643.1 570.6 644.6 575.8 646.0 571.8 647.5 578.2 649.0 570.8 650.4 564.3 651.9 573.6 653.3 569.8 654.8 584.7 656.2 567.6 657.7 570.0 659.1 566.2 660.6 579.4 662.0 576.9 663.5 574.9 664.9 557.8 666.4 555.4 667.8 571.4 669.3 575.5 670.7 582.3 672.2 552.8 673.6 567.5 675.1 553.8 676.5 560.4 678.0 567.0 679.4 577.7 680.9 564.3 682.3 562.5 683.8 566.1 685.2 580.3 686.7 590.7 688.1 555.1 689.6 566.5 691.0 565.1 692.5 579.5 693.9 572.9 695.4 582.9 696.8 559.9 698.3 569.1 699.7 564.9 701.2 559.1 702.6 567.6 704.1 558.3 705.5 588.6 707.0 572.8 708.4 559.9 709.9 563.5 711.3 584.6 712.8 564.7 714.2 575.2 715.7 574.3 717.1 578.8 718.6 574.7 720.0 567.1 721.5 563.7 722.9 553.0 724.4 568.6 725.8 570.2 727.3 565.8 728.7 567.7 730.2 558.1 731.6 588.5 733.1 564.5 734.5 559.7 736.0 563.6 737.5 567.5 738.9 575.7 740.4 547.2 741.8 573.6 743.3 563.5 744.7 567.4 746.2 578.2 747.6 575.9 749.1 562.9 750.5 568.2 752.0 585.9 753.4 581.3 754.9 576.8 756.3 569.1 757.8 577.7 759.2 572.6 760.7 564.1 762.1 560.0 763.6 573.7 765.0 572.5 766.5 579.9 767.9 564.7 769.4 581.7 770.8 565.8 772.3 580.3 773.7 574.0 775.2 563.8 776.6 560.5 778.1 568.0 779.5 566.7 781.0 577.5 782.4 562.8 783.9 555.7 785.3 568.9 786.8 586.3 788.2 583.8 789.7 563.4 791.1 566.6 792.6 571.9 794.0 563.1 795.5 566.8 796.9 566.6 798.4 559.6 799.8 563.5 801.3 564.7 802.7 571.1 804.2 558.4 805.6 570.0 807.1 560.2 808.5 561.7 810.0 558.9 811.4 605.1 812.9 580.3 814.3 581.1 815.8 576.3 817.2 566.9 818.7 569.6 820.1 571.6 821.6 573.1 823.1 574.4 824.5 582.8 826.0 542.4 827.4 564.0 828.9 575.1 830.3 565.8 831.8 567.6 833.2 582.4 834.7 570.7 836.1 585.1 837.6 568.6 839.0 571.2 840.5 559.4 841.9 551.1 843.4 565.2 844.8 569.6 846.3 565.9 847.7 556.9 849.2 574.9 850.6 569.7 852.1 569.1 853.5 562.0 855.0 583.9 856.4 582.3 857.9 571.8 859.3 568.0 860.8 571.3 862.2 584.3 863.7 594.3 865.1 569.1 866.6 565.2 868.0 552.7 869.5 594.2 870.9 559.1 872.4 576.9 873.8 573.5 875.3 581.0 876.7 561.3 878.2 554.4 879.6 570.4 881.1 572.7 882.5 579.4 884.0 553.8 885.4 564.9 886.9 566.6 888.3 556.8 889.8 567.5 891.2 576.2 892.7 568.7 894.1 556.1 895.6 572.1 897.0 576.8 898.5 573.9 899.9 576.1 901.4 554.1 902.8 573.2 904.3 574.4 905.7 565.6 907.2 568.5 908.7 562.1 910.1 580.2 911.6 566.3 913.0 560.5 914.5 570.7 915.9 570.0 917.4 575.0 918.8 561.5 920.3 562.9 921.7 572.5 923.2 589.2 924.6 573.2 926.1 556.8 927.5 570.5 929.0 562.0 930.4 552.3 931.9 562.9 933.3 563.8 934.8 572.8 936.2 580.9 937.7 579.3 939.1 576.3 940.6 565.1 942.0 570.4 943.5 568.7 944.9 581.7 946.4 563.2 947.8 564.1 949.3 582.5 950.7 574.2 952.2 565.0 953.6 570.5 955.1 570.4 956.5 570.7 958.0 576.3 959.4 572.3 960.9 567.4 962.3 564.5 963.8 553.5 965.2 565.1 966.7 579.4 968.1 571.1 969.6 563.2 971.0 566.9 972.5 561.3 973.9 571.7 975.4 587.1 976.8 585.3 978.3 579.9 979.7 576.1 981.2 567.0 982.6 557.9 984.1 569.2 985.5 565.0 987.0 576.6 988.4 570.5 989.9 563.9 991.3 573.2 992.8 595.4 994.2 560.9 995.7 579.4 997.2 574.5 998.6 568.2 1000.1 562.3 1001.5 569.3 1003.0 571.1 1004.4 576.1 1005.9 575.5 1007.3 572.0 1008.8 563.0 1010.2 571.9 1011.7 564.9 1013.1 559.7 1014.6 577.2 1016.0 563.1 1017.5 558.4 1018.9 569.9 1020.4 551.7 1021.8 568.5 1023.3 573.1 1024.7 565.3 1026.2 571.2 1027.6 588.5 1029.1 581.9 1030.5 577.5 1032.0 574.5 1033.4 564.4 1034.9 567.8 1036.3 566.5 1037.8 569.3 1039.2 570.1 1040.7 561.8 1042.1 583.6 1043.6 559.7 1045.0 572.3 1046.5 578.3 1047.9 568.8 1049.4 563.0 1050.8 569.3 1052.3 586.5 1053.7 574.6 1055.2 566.4 1056.6 574.3 1058.1 567.2 1059.5 552.1 1061.0 571.2 1062.4 578.4 1063.9 579.4 1065.3 568.4 1066.8 556.3 1068.2 579.8 1069.7 567.6 1071.1 575.6 1072.6 579.2 1074.0 572.0 1075.5 568.4 1076.9 563.3 1078.4 565.1 1079.8 569.3 1081.3 564.8 1082.8 572.2 1084.2 551.3 1085.7 559.8 1087.1 568.7 1088.6 562.7 1090.0 564.1 1091.5 558.7 1092.9 574.9 1094.4 583.6 1095.8 559.8 1097.3 579.2 1098.7 555.8 1100.2 570.1 1101.6 550.8 1103.1 573.2 1104.5 569.0 1106.0 570.1 1107.4 579.8 1108.9 574.2 1110.3 568.6 1111.8 561.4 1113.2 569.2 1114.7 562.5 1116.1 565.0 1117.6 582.1 1119.0 576.6 1120.5 571.3 1121.9 574.4 1123.4 555.7 1124.8 569.7 1126.3 553.5 1127.7 562.7 1129.2 572.0 1130.6 572.1 1132.1 575.0 1133.5 570.0 1135.0 569.1 1136.4 568.6 1137.9 581.2 1139.3 580.3 1140.8 555.5 1142.2 569.7 1143.7 580.1 1145.1 566.2 1146.6 570.5 1148.0 563.0 1149.5 557.6 1150.9 569.6 1152.4 564.7 1153.8 566.9 1155.3 555.2 1156.7 557.8 1158.2 567.0 1159.6 564.1 1161.1 573.0 1162.5 558.5 1164.0 574.3 1165.4 573.0 1166.9 568.7 1168.3 573.6 1169.8 567.1 1171.3 566.0 1172.7 567.5 1174.2 556.3 1175.6 567.3 1177.1 574.8 1178.5 553.2 1180.0 573.8 1181.4 561.9 1182.9 564.3 1184.3 568.3 1185.8 569.8 1187.2 579.8 1188.7 566.2 1190.1 582.9 1191.6 567.9 1193.0 571.9 1194.5 573.6 1195.9 561.6 1197.4 557.6 1198.8 568.6 1200.3 574.0 1201.7 575.5 1203.2 564.5 1204.6 583.6 1206.1 566.8 1207.5 561.9 1209.0 578.5 1210.4 579.1 1211.9 559.7 1213.3 575.8 1214.8 557.1 1216.2 568.9 1217.7 589.0 1219.1 580.3 1220.6 575.1 1222.0 574.7 1223.5 561.5 1224.9 572.0 1226.4 573.1 1227.8 559.8 1229.3 571.0 1230.7 574.1 1232.2 571.1 1233.6 573.1 1235.1 567.2 1236.5 559.2 1238.0 569.6 1239.4 552.0 1240.9 562.9 1242.3 579.2 1243.8 585.4 1245.2 573.0 1246.7 547.7 1248.1 581.4 1249.6 574.3 1251.0 567.7 1252.5 576.2 1253.9 574.4 1255.4 558.7 1256.9 557.8 1258.3 578.8 1259.8 548.9 1261.2 574.9 1262.7 572.3 1264.1 578.3 1265.6 585.2 1267.0 581.6 1268.5 583.5 1269.9 577.0 1271.4 574.2 1272.8 579.3 1274.3 569.5 1275.7 561.5 1277.2 569.0 1278.6 555.3 1280.1 564.7 1281.5 588.2 1283.0 574.3 1284.4 568.1 1285.9 564.2 1287.3 553.7 1288.8 564.8 1290.2 562.6 1291.7 569.6 1293.1 570.3 1294.6 568.9 1296.0 552.4 1297.5 582.6 1298.9 573.5 1300.4 569.5 1301.8 566.5 1303.3 573.4 1304.7 580.6 1306.2 574.9 1307.6 559.0 1309.1 558.1 1310.5 548.1 1312.0 570.4 1313.4 575.7 1314.9 580.2 1316.3 570.4 1317.8 576.5 1319.2 560.9 1320.7 573.8 1322.1 568.0 1323.6 563.1 1325.0 553.9 1326.5 579.4 1327.9 548.8 1329.4 574.6 1330.8 561.8 1332.3 574.5 1333.7 564.0 1335.2 575.8 1336.6 567.0 1338.1 559.6 1339.5 564.3 1341.0 554.5 1342.4 571.4 1343.9 578.3 1345.4 572.7 1346.8 569.9 1348.3 580.6 1349.7 558.5 1351.2 574.0 1352.6 569.0 1354.1 564.7 1355.5 573.9 1357.0 558.7 1358.4 567.8 1359.9 572.0 1361.3 558.5 1362.8 566.9 1364.2 573.7 1365.7 577.5 1367.1 560.5 1368.6 577.1 1370.0 566.3 1371.5 569.8 1372.9 564.0 1374.4 576.0 1375.8 562.6 1377.3 571.5 1378.7 572.4 1380.2 575.8 1381.6 559.6 1383.1 575.9" fill="none" stroke="#00ff00" stroke-width="1.7" stroke-linejoin="round"/>
<path d="M131.0 423.0 132.1 414.6 133.1 411.8 134.2 405.4 135.2 417.9 136.3 425.3 137.3 419.9 138.4 421.8 139.4 423.8 140.5 415.0 141.6 432.2 142.6 415.9 143.7 420.2 144.7 431.8 145.8 419.7 146.8 422.5 147.9 417.6 148.9 422.2 150.0 412.1 151.1 418.1 152.1 426.3 153.2 420.4 154.2 418.2 155.3 421.4 156.3 424.0 157.4 418.8 158.4 422.0 159.5 414.7 160.5 421.4 161.6 413.2 162.7 421.9 163.7 418.9 164.8 419.1 165.8 424.7 166.9 416.6 167.9 423.4 169.0 416.1 170.0 420.2 171.1 418.1 172.2 423.7 173.2 417.7 174.3 417.2 175.3 420.5 176.4 417.6 177.4 421.7 178.5 423.4 179.5 416.3 180.6 422.6 181.7 422.9 182.7 426.1 183.8 416.7 184.8 421.2 185.9 417.8 186.9 423.8 188.0 420.5 189.0 418.8 190.1 427.4 191.1 413.4 192.2 414.8 193.3 421.9 194.3 423.6 195.4 416.8 196.4 424.6 197.5 421.8 198.5 420.3 199.6 420.1 200.6 425.9 201.7 418.3 202.8 419.9 203.8 426.2 204.9 425.4 205.9 424.7 207.0 426.8 208.0 421.4 209.1 412.3 210.1 427.4 211.2 431.3 212.2 429.3 213.3 430.2 214.4 422.5 215.4 416.6 216.5 431.2 217.5 432.8 218.6 435.3 219.6 421.7 220.7 434.5 221.7 427.5 222.8 421.8 223.9 427.0 224.9 428.3 226.0 430.9 227.0 435.2 228.1 427.7 229.1 434.2 230.2 437.4 231.2 431.7 232.3 438.0 233.4 428.2 234.4 436.9 235.5 438.7 236.5 435.8 237.6 436.3 238.6 435.8 239.7 436.2 240.7 440.7 241.8 448.1 242.8 438.1 243.9 441.0 245.0 440.7 246.0 442.9 247.1 447.0 248.1 446.0 249.2 434.2 250.2 444.9 251.3 443.3 252.3 442.8 253.4 441.9 254.5 442.5 255.5 444.7 256.6 445.8 257.6 445.5 258.7 442.6 259.7 450.8 260.8 450.3 261.8 447.8 262.9 450.2 264.0 449.6 265.0 453.3 266.1 450.0 267.1 444.8 268.2 437.5 269.2 459.5 270.3 454.3 271.3 454.3 272.4 447.4 273.4 450.3 274.5 451.3 275.6 453.6 276.6 449.1 277.7 462.3 278.7 463.5 279.8 456.1 280.8 449.2 281.9 460.2 282.9 462.4 284.0 459.9 285.1 454.3 286.1 471.6 287.2 464.8 288.2 467.2 289.3 462.1 290.3 462.1 291.4 466.3 292.4 457.6 293.5 464.9 294.6 463.5 295.6 459.6 296.7 464.3 297.7 464.9 298.8 463.7 299.8 458.4 300.9 455.4 301.9 474.3 303.0 464.6 304.0 477.7 305.1 461.7 306.2 464.6 307.2 472.0 308.3 472.0 309.3 458.9 310.4 463.9 311.4 474.3 312.5 470.5 313.5 471.3 314.6 475.6 315.7 475.0 316.7 469.0 317.8 470.1 318.8 472.7 319.9 471.2 320.9 474.3 322.0 473.8 323.0 484.1 324.1 479.9 325.2 483.6 326.2 484.0 327.3 475.9 328.3 483.6 329.4 482.6 330.4 482.1 331.5 482.3 332.5 493.3 333.6 483.3 334.6 487.2 335.7 486.4 336.8 479.3 337.8 475.5 338.9 487.9 339.9 488.4 341.0 487.9 342.0 487.9 343.1 485.4 344.1 494.9 345.2 489.7 346.3 492.6 347.3 488.1 348.4 490.4 349.4 490.9 350.5 487.5 351.5 480.9 352.6 491.6 353.6 493.1 354.7 494.3 355.8 491.0 356.8 504.8 357.9 498.3 358.9 495.4 360.0 483.1 361.0 495.6 362.1 496.2 363.1 495.3 364.2 500.2 365.2 502.8 366.3 494.9 367.4 485.5 368.4 497.1 369.5 495.4 370.5 498.3 371.6 508.3 372.6 497.9 373.7 510.5 374.7 498.4 375.8 501.8 376.9 496.8 377.9 508.4 379.0 505.5 380.0 502.5 381.1 494.4 382.1 511.6 383.2 502.7 384.2 505.3 385.3 505.7 386.3 498.0 387.4 502.4 388.5 499.1 389.5 500.9 390.6 505.2 391.6 517.6 392.7 506.8 393.7 505.9 394.8 507.1 395.8 510.7 396.9 517.7 398.0 515.3 399.0 514.5 400.1 517.7 401.1 520.4 402.2 504.5 403.2 508.5 404.3 509.8 405.3 516.3 406.4 506.4 407.5 505.8 408.5 515.0 409.6 521.8 410.6 516.3 411.7 514.0 412.7 517.5 413.8 516.8 414.8 522.9 415.9 507.5 416.9 520.1 418.0 521.0 419.1 518.9 420.1 520.3 421.2 518.1 422.2 524.9 423.3 524.1 424.3 523.4 425.4 522.3 426.4 526.1 427.5 525.9 428.6 522.9 429.6 528.4 430.7 520.9 431.7 523.7 432.8 522.9 433.8 519.0 434.9 517.8 435.9 523.7 437.0 526.1 438.1 528.9 439.1 525.3 440.2 535.1 441.2 524.7 442.3 526.5 443.3 532.1 444.4 535.0 445.4 536.7 446.5 533.6 447.5 529.0 448.6 530.0 449.7 528.2 450.7 518.8 451.8 528.1 452.8 533.5 453.9 528.1 454.9 533.7 456.0 530.1 457.0 523.9 458.1 536.1 459.2 537.2 460.2 532.4 461.3 535.3 462.3 535.0 463.4 539.9 464.4 538.2 465.5 533.6 466.5 536.2 467.6 532.3 468.7 538.6 469.7 542.2 470.8 536.9 471.8 535.9 472.9 539.3 473.9 537.1 475.0 545.7 476.0 540.0 477.1 541.8 478.1 550.5 479.2 541.9 480.3 545.1 481.3 545.0 482.4 545.2 483.4 540.8 484.5 544.2 485.5 548.1 486.6 547.2 487.6 548.2 488.7 552.6 489.8 548.8 490.8 550.7 491.9 549.1 492.9 546.9 494.0 559.3 495.0 539.1 496.1 557.2 497.1 557.4 498.2 554.0 499.3 544.3 500.3 552.7 501.4 543.9 502.4 566.4 503.5 543.0 504.5 553.3 505.6 557.3 506.6 562.3 507.7 557.5 508.7 553.7 509.8 567.2 510.9 554.0 511.9 559.5 513.0 562.4 514.0 569.8 515.1 562.9 516.1 572.6 517.2 560.6 518.2 558.0 519.3 567.6 520.4 558.8 521.4 565.7 522.5 560.6 523.5 566.4 524.6 557.3 525.6 569.2 526.7 574.1 527.7 566.3 528.8 566.2 529.9 572.8 530.9 569.2 532.0 564.9 533.0 581.8 534.1 570.2 535.1 569.1 536.2 570.5 537.2 569.8 538.3 568.0 539.3 566.0 540.4 574.2 541.5 573.0 542.5 566.1 543.6 573.6 544.6 567.5 545.7 572.9 546.7 575.1 547.8 576.7 548.8 572.5 549.9 576.6 551.0 575.4 552.0 577.3 553.1 579.6 554.1 571.1 555.2 583.7 556.2 584.8 557.3 584.0 558.3 582.0 559.4 574.1 560.4 576.2 561.5 581.4 562.6 587.2 563.6 584.4 564.7 579.0 565.7 587.1 566.8 583.7 567.8 586.0 568.9 593.9 569.9 576.8 571.0 597.7 572.1 587.3 573.1 577.8 574.2 584.4 575.2 578.3 576.3 588.5 577.3 588.1 578.4 594.2 579.4 582.9 580.5 593.5 581.6 596.6 582.6 595.3 583.7 589.7 584.7 586.5 585.8 589.2 586.8 591.2 587.9 598.3 588.9 605.1 590.0 593.6 591.0 594.2 592.1 589.4 593.2 594.2 594.2 597.7 595.3 603.5 596.3 591.0 597.4 606.0 598.4 609.8 599.5 595.6 600.5 600.0 601.6 596.8 602.7 602.2 603.7 586.5 604.8 598.4 605.8 596.6 606.9 598.4 607.9 604.8 609.0 596.5 610.0 597.6 611.1 593.4 612.2 602.4 613.2 594.8 614.3 607.8 615.3 609.5 616.4 600.0 617.4 606.8 618.5 608.3 619.5 604.3 620.6 601.6 621.6 598.0 622.7 609.1 623.8 608.7 624.8 601.5 625.9 609.5 626.9 618.7 628.0 604.3 629.0 614.1 630.1 611.6 631.1 611.4 632.2 609.3 633.3 606.2 634.3 617.7 635.4 613.6 636.4 614.7 637.5 606.0 638.5 604.6 639.6 612.6 640.6 624.8 641.7 611.1 642.8 620.3 643.8 619.4 644.9 604.3 645.9 610.4 647.0 614.0 648.0 621.8 649.1 618.7 650.1 618.7 651.2 617.3 652.2 615.5 653.3 632.2 654.4 623.1 655.4 623.5 656.5 611.9 657.5 614.8 658.6 628.9 659.6 629.6 660.7 615.2 661.7 625.3 662.8 635.8 663.9 615.0 664.9 620.6 666.0 623.6 667.0 628.7 668.1 623.2 669.1 627.6 670.2 628.9 671.2 627.1 672.3 615.1 673.4 625.5 674.4 633.9 675.5 631.1 676.5 631.4 677.6 623.4 678.6 635.4 679.7 629.7 680.7 636.0 681.8 623.2 682.8 626.7 683.9 630.1 685.0 636.3 686.0 634.8 687.1 629.9 688.1 628.6 689.2 637.7 690.2 636.6 691.3 640.2 692.3 638.4 693.4 635.1 694.5 635.2 695.5 629.9 696.6 639.3 697.6 636.9 698.7 642.5 699.7 648.5 700.8 639.9 701.8 636.7 702.9 642.8 704.0 639.5 705.0 645.0 706.1 638.7 707.1 643.9 708.2 639.3 709.2 639.6 710.3 639.4 711.3 645.2 712.4 653.6 713.4 658.0 714.5 646.1 715.6 644.5 716.6 645.6 717.7 647.5 718.7 650.4 719.8 646.6 720.8 648.7 721.9 641.1 722.9 650.6 724.0 649.1 725.1 649.6 726.1 652.8 727.2 654.8 728.2 647.2 729.3 661.3 730.3 652.7 731.4 653.8 732.4 650.3 733.5 659.1 734.5 650.6 735.6 656.3 736.7 655.5 737.7 660.1 738.8 656.7 739.8 664.6 740.9 656.9 741.9 654.7 743.0 661.0 744.0 655.4 745.1 654.2 746.2 659.5 747.2 650.5 748.3 664.4 749.3 659.0 750.4 655.4 751.4 662.1 752.5 658.8 753.5 660.9 754.6 661.4 755.7 657.6 756.7 662.7 757.8 656.8 758.8 651.6 759.9 658.7 760.9 671.3 762.0 669.9 763.0 668.0 764.1 655.0 765.1 660.4 766.2 666.5 767.3 673.5 768.3 671.5 769.4 681.3 770.4 669.7 771.5 662.1 772.5 656.8 773.6 668.5 774.6 676.1 775.7 669.8 776.8 670.3 777.8 670.1 778.9 670.4 779.9 667.1 781.0 669.5 782.0 667.5 783.1 672.9 784.1 661.1 785.2 680.0 786.3 678.7 787.3 667.5 788.4 663.9 789.4 673.0 790.5 677.8 791.5 670.5 792.6 681.7 793.6 674.5 794.7 674.5 795.7 671.4 796.8 680.0 797.9 681.9 798.9 673.6 800.0 685.2 801.0 676.1 802.1 687.7 803.1 680.5 804.2 687.1 805.2 678.3 806.3 683.1 807.4 691.8 808.4 689.6 809.5 680.9 810.5 689.1 811.6 681.8 812.6 684.1 813.7 683.4 814.7 673.4 815.8 675.4 816.9 694.9 817.9 689.1 819.0 685.1 820.0 684.5 821.1 684.2 822.1 694.6 823.2 694.6 824.2 687.9 825.3 689.5 826.3 698.7 827.4 698.8 828.5 690.8 829.5 693.8 830.6 691.9 831.6 685.4 832.7 688.2 833.7 696.9 834.8 696.3 835.8 689.3 836.9 687.2 838.0 702.8 839.0 707.4 840.1 696.1 841.1 703.1 842.2 689.8 843.2 689.2 844.3 704.6 845.3 699.4 846.4 699.5 847.5 692.1 848.5 701.2 849.6 696.8 850.6 706.2 851.7 693.6 852.7 701.1 853.8 700.1 854.8 697.2 855.9 708.7 856.9 701.3 858.0 698.5 859.1 711.6 860.1 706.8 861.2 701.3 862.2 690.4 863.3 701.9 864.3 701.8 865.4 701.7 866.4 708.9 867.5 711.0 868.6 697.5 869.6 718.7 870.7 703.9 871.7 709.4 872.8 711.5 873.8 703.2 874.9 711.0 875.9 705.3 877.0 708.8 878.1 710.5 879.1 711.9 880.2 711.1 881.2 713.2 882.3 709.6 883.3 710.1 884.4 704.2 885.4 719.4 886.5 716.5 887.5 714.9 888.6 701.3 889.7 702.5 890.7 716.0 891.8 706.5 892.8 714.2 893.9 711.8 894.9 720.3 896.0 713.9 897.0 704.7 898.1 710.4 899.2 720.7 900.2 710.2 901.3 718.7 902.3 716.5 903.4 716.3 904.4 720.1 905.5 721.4 906.5 717.2 907.6 716.2 908.7 713.1 909.7 727.4 910.8 711.5 911.8 725.0 912.9 720.6 913.9 718.4 915.0 721.3 916.0 723.0 917.1 723.8 918.1 725.6 919.2 730.9 920.3 729.8 921.3 726.5 922.4 726.8 923.4 723.2 924.5 723.2 925.5 720.9 926.6 721.1 927.6 725.9 928.7 713.5 929.8 727.4 930.8 733.5 931.9 725.0 932.9 722.4 934.0 727.9 935.0 734.4 936.1 732.0 937.1 733.8 938.2 737.6 939.2 727.1 940.3 728.9 941.4 725.3 942.4 731.4 943.5 731.9 944.5 736.8 945.6 723.4 946.6 724.7 947.7 732.2 948.7 729.8 949.8 727.3 950.9 731.8 951.9 734.3 953.0 732.1 954.0 730.7 955.1 726.6 956.1 727.3 957.2 740.3 958.2 733.1 959.3 736.1 960.4 737.4 961.4 733.7 962.5 725.5 963.5 734.5 964.6 740.4 965.6 734.5 966.7 722.9 967.7 731.5 968.8 731.6 969.8 736.5 970.9 739.5 972.0 730.8 973.0 731.1 974.1 730.3 975.1 739.2 976.2 740.3 977.2 742.5 978.3 741.8 979.3 738.0 980.4 724.6 981.5 744.7 982.5 740.8 983.6 739.4 984.6 743.0 985.7 741.2 986.7 745.1 987.8 745.1 988.8 734.9 989.9 739.9 991.0 740.5 992.0 749.0 993.1 752.0 994.1 740.3 995.2 733.3 996.2 752.8 997.3 747.7 998.3 736.5 999.4 746.2 1000.4 739.0 1001.5 733.4 1002.6 747.1 1003.6 745.1 1004.7 752.5 1005.7 748.8 1006.8 740.0 1007.8 732.0 1008.9 743.5 1009.9 748.8 1011.0 742.9 1012.1 753.0 1013.1 741.0 1014.2 748.1 1015.2 743.1 1016.3 754.5 1017.3 747.3 1018.4 740.2 1019.4 742.2 1020.5 747.4 1021.6 736.0 1022.6 752.0 1023.7 750.8 1024.7 746.1 1025.8 754.1 1026.8 755.0 1027.9 744.6 1028.9 746.7 1030.0 746.1 1031.0 755.5 1032.1 755.9 1033.2 740.5 1034.2 749.6 1035.3 751.7 1036.3 744.2 1037.4 738.6 1038.4 754.3 1039.5 743.1 1040.5 742.1 1041.6 746.3 1042.7 744.8 1043.7 750.6 1044.8 753.6 1045.8 749.7 1046.9 754.3 1047.9 744.6 1049.0 758.1 1050.0 763.2 1051.1 747.9 1052.2 749.9 1053.2 743.9 1054.3 744.2 1055.3 751.7 1056.4 746.1 1057.4 754.0 1058.5 746.1 1059.5 752.2 1060.6 749.6 1061.6 766.0 1062.7 758.0 1063.8 754.3 1064.8 749.8 1065.9 760.3 1066.9 754.1 1068.0 758.6 1069.0 746.3 1070.1 740.2 1071.1 745.8 1072.2 755.1 1073.3 758.3 1074.3 756.0 1075.4 753.1 1076.4 759.2 1077.5 759.7 1078.5 756.3 1079.6 755.2 1080.6 757.5 1081.7 763.4 1082.8 759.5 1083.8 753.8 1084.9 756.6 1085.9 762.5 1087.0 761.9 1088.0 753.3 1089.1 765.4 1090.1 748.8 1091.2 756.9 1092.2 764.1 1093.3 766.0 1094.4 769.8 1095.4 751.8 1096.5 764.6 1097.5 769.2 1098.6 763.7 1099.6 762.0 1100.7 761.5 1101.7 772.8 1102.8 760.9 1103.9 752.6 1104.9 755.4 1106.0 757.6 1107.0 765.0 1108.1 767.3 1109.1 754.8 1110.2 776.8 1111.2 754.6 1112.3 757.7 1113.3 771.2 1114.4 754.8 1115.5 774.9 1116.5 764.0 1117.6 760.6 1118.6 765.1 1119.7 761.7 1120.7 772.5 1121.8 752.3 1122.8 767.9 1123.9 761.8 1125.0 756.8 1126.0 766.4 1127.1 766.0 1128.1 758.4 1129.2 763.3 1130.2 747.7 1131.3 769.1 1132.3 758.3 1133.4 763.0 1134.5 760.1 1135.5 765.3 1136.6 763.8 1137.6 755.0 1138.7 759.1 1139.7 757.1 1140.8 760.6 1141.8 755.5 1142.9 779.4 1143.9 770.0 1145.0 766.8 1146.1 771.3 1147.1 749.3 1148.2 760.9 1149.2 758.1 1150.3 780.1 1151.3 753.1 1152.4 765.9 1153.4 767.1 1154.5 772.0 1155.6 757.2 1156.6 764.7 1157.7 766.2 1158.7 761.9 1159.8 757.7 1160.8 767.7 1161.9 760.3 1162.9 761.8 1164.0 758.9 1165.1 766.9 1166.1 773.3 1167.2 770.8 1168.2 763.4 1169.3 772.7 1170.3 767.2 1171.4 763.2 1172.4 765.9 1173.5 752.7 1174.5 761.7 1175.6 763.6 1176.7 770.5 1177.7 771.5 1178.8 757.7 1179.8 761.7 1180.9 755.3 1181.9 773.1 1183.0 764.9 1184.0 771.2 1185.1 767.2 1186.2 759.2 1187.2 768.3 1188.3 769.2 1189.3 760.2 1190.4 763.0 1191.4 780.4 1192.5 767.9 1193.5 770.0 1194.6 769.2 1195.7 769.9 1196.7 772.9 1197.8 783.4 1198.8 771.4 1199.9 762.9 1200.9 780.8 1202.0 762.8 1203.0 768.2 1204.1 772.9 1205.1 772.8 1206.2 769.0 1207.3 775.1 1208.3 760.9 1209.4 765.2 1210.4 783.5 1211.5 773.1 1212.5 772.9 1213.6 764.5 1214.6 778.0 1215.7 763.5 1216.8 769.3 1217.8 773.4 1218.9 777.1 1219.9 758.6 1221.0 763.4 1222.0 776.5 1223.1 776.9 1224.1 750.3 1225.2 777.7 1226.3 767.8 1227.3 758.8 1228.4 765.7 1229.4 773.0 1230.5 762.3 1231.5 771.3 1232.6 768.8 1233.6 766.3 1234.7 763.1 1235.7 768.6 1236.8 772.8 1237.9 770.0 1238.9 762.5 1240.0 764.1 1241.0 763.9 1242.1 770.1 1243.1 765.2 1244.2 759.0 1245.2 765.4 1246.3 768.2 1247.4 766.7 1248.4 770.1 1249.5 769.2 1250.5 770.6 1251.6 770.9 1252.6 760.2 1253.7 763.7 1254.7 760.2 1255.8 772.7 1256.9 763.1 1257.9 765.3 1259.0 767.7 1260.0 769.5 1261.1 762.4 1262.1 764.8 1263.2 765.2 1264.2 767.9 1265.3 777.6 1266.3 764.6 1267.4 771.2 1268.5 773.3 1269.5 763.2 1270.6 766.2 1271.6 762.6 1272.7 769.7 1273.7 766.5 1274.8 769.7 1275.8 767.5 1276.9 783.9 1278.0 766.8 1279.0 774.2 1280.1 765.7 1281.1 768.2 1282.2 767.5 1283.2 771.9 1284.3 780.2 1285.3 765.5 1286.4 773.8 1287.4 768.2 1288.5 756.6 1289.6 768.1 1290.6 775.8 1291.7 770.0 1292.7 762.6 1293.8 763.6 1294.8 763.7 1295.9 762.2 1296.9 761.5 1298.0 774.0 1299.1 764.5 1300.1 771.6 1301.2 764.3 1302.2 764.5 1303.3 769.2 1304.3 769.4 1305.4 768.5 1306.4 766.6 1307.5 759.5 1308.6 769.4 1309.6 766.0 1310.7 772.0 1311.7 763.4 1312.8 762.1 1313.8 763.2 1314.9 769.5 1315.9 762.2 1317.0 775.6 1318.0 770.3 1319.1 783.6 1320.2 761.0 1321.2 763.2 1322.3 765.0 1323.3 773.7 1324.4 763.1 1325.4 768.5 1326.5 762.5 1327.5 771.6 1328.6 776.4 1329.7 764.8 1330.7 766.2 1331.8 778.2 1332.8 768.7 1333.9 776.3 1334.9 754.8 1336.0 757.0 1337.0 757.9 1338.1 775.0 1339.2 766.0 1340.2 767.2 1341.3 763.0 1342.3 769.6 1343.4 762.1 1344.4 759.1 1345.5 760.2 1346.5 774.7 1347.6 784.3 1348.6 765.8 1349.7 772.7 1350.8 771.0 1351.8 762.9 1352.9 764.9 1353.9 774.5 1355.0 772.5 1356.0 764.2 1357.1 752.2 1358.1 771.8 1359.2 776.6 1360.3 750.5 1361.3 768.3 1362.4 760.5 1363.4 777.6 1364.5 762.1 1365.5 768.1 1366.6 758.8 1367.6 769.8 1368.7 773.8 1369.8 765.3 1370.8 774.1 1371.9 772.1 1372.9 765.7 1374.0 763.9 1375.0 760.7 1376.1 779.5 1377.1 768.4 1378.2 751.2 1379.2 771.6 1380.3 756.0 1381.4 767.0 1382.4 779.8 1383.5 750.6" fill="none" stroke="#0000ff" stroke-width="1.7" stroke-linejoin="round"/>
<path d="M131.0 412.3 132.5 414.9 133.9 421.5 135.4 417.0 136.8 422.3 138.3 423.7 139.7 412.5 141.2 424.8 142.6 416.9 144.1 430.3 145.5 423.5 147.0 417.3 148.4 421.0 149.9 421.1 151.3 421.7 152.8 427.0 154.2 422.8 155.7 428.4 157.1 423.3 158.6 419.4 160.0 412.8 161.5 412.6 162.9 421.4 164.4 423.8 165.8 427.6 167.3 417.5 168.7 420.9 170.2 416.6 171.6 418.5 173.1 409.4 174.5 424.3 176.0 417.2 177.4 420.4 178.9 423.0 180.3 422.5 181.8 414.4 183.2 428.3 184.7 424.7 186.1 423.4 187.6 417.8 189.0 413.3 190.5 413.2 191.9 420.1 193.4 422.0 194.8 417.8 196.3 430.2 197.7 422.8 199.2 426.2 200.6 425.8 202.1 416.2 203.5 426.3 205.0 424.2 206.4 421.1 207.9 436.0 209.3 442.9 210.8 447.7 212.2 453.3 213.7 446.6 215.2 457.5 216.6 460.9 218.1 467.9 219.5 472.3 221.0 481.3 222.4 483.6 223.9 480.1 225.3 492.6 226.8 500.1 228.2 496.7 229.7 490.9 231.1 498.0 232.6 503.1 234.0 499.2 235.5 509.1 236.9 506.4 238.4 518.9 239.8 521.1 241.3 520.2 242.7 517.3 244.2 527.6 245.6 526.2 247.1 529.0 248.5 540.5 250.0 534.7 251.4 534.8 252.9 548.1 254.3 555.5 255.8 557.2 257.2 555.7 258.7 564.4 260.1 555.3 261.6 569.7 263.0 571.8 264.5 562.7 265.9 568.4 267.4 562.5 268.8 565.8 270.3 575.4 271.7 570.5 273.2 580.2 274.6 584.5 276.1 586.2 277.5 593.3 279.0 601.0 280.4 595.9 281.9 603.0 283.3 608.5 284.8 602.5 286.2 605.1 287.7 600.4 289.1 617.3 290.6 623.8 292.0 624.5 293.5 635.8 294.9 636.7 296.4 637.0 297.8 636.5 299.3 636.1 300.8 644.2 302.2 649.5 303.7 650.3 305.1 652.7 306.6 655.8 308.0 664.3 309.5 656.6 310.9 666.3 312.4 671.3 313.8 677.4 315.3 680.7 316.7 679.6 318.2 681.2 319.6 681.7 321.1 695.7 322.5 696.2 324.0 697.7 325.4 696.6 326.9 698.0 328.3 711.2 329.8 708.0 331.2 712.4 332.7 720.7 334.1 707.7 335.6 713.3 337.0 720.7 338.5 724.1 339.9 718.7 341.4 725.3 342.8 725.1 344.3 727.4 345.7 734.0 347.2 735.3 348.6 741.3 350.1 740.2 351.5 745.7 353.0 736.7 354.4 743.8 355.9 736.9 357.3 737.3 358.8 740.0 360.2 751.0 361.7 750.1 363.1 743.2 364.6 758.2 366.0 757.6 367.5 753.0 368.9 753.5 370.4 755.5 371.8 750.2 373.3 769.7 374.7 755.7 376.2 758.1 377.6 758.2 379.1 757.1 380.5 756.5 382.0 764.6 383.4 756.2 384.9 758.1 386.3 760.0 387.8 770.5 389.3 759.8 390.7 760.3 392.2 769.3 393.6 760.3 395.1 766.2 396.5 774.9 398.0 772.3 399.4 770.3 400.9 781.4 402.3 768.2 403.8 767.3 405.2 759.4 406.7 773.1 408.1 778.2 409.6 768.9 411.0 788.2 412.5 781.9 413.9 781.3 415.4 765.5 416.8 776.9 418.3 777.6 419.7 759.7 421.2 775.0 422.6 773.5 424.1 762.4 425.5 779.4 427.0 791.2 428.4 781.5 429.9 769.5 431.3 774.0 432.8 784.3 434.2 769.6 435.7 778.6 437.1 776.2 438.6 777.3 440.0 788.4 441.5 764.5 442.9 784.7 444.4 777.9 445.8 775.2 447.3 763.4 448.7 778.3 450.2 772.9 451.6 753.8 453.1 765.6 454.5 766.9 456.0 768.3 457.4 771.3 458.9 769.7 460.3 787.7 461.8 784.0 463.2 775.3 464.7 786.4 466.1 792.0 467.6 779.6 469.0 766.0 470.5 778.8 471.9 786.7 473.4 768.4 474.9 775.9 476.3 783.0 477.8 784.9 479.2 782.4 480.7 778.8 482.1 774.9 483.6 771.7 485.0 783.5 486.5 783.0 487.9 772.3 489.4 770.8 490.8 785.4 492.3 783.5 493.7 770.2 495.2 763.6 496.6 776.9 498.1 782.1 499.5 783.2 501.0 782.1 502.4 764.3 503.9 776.3 505.3 773.1 506.8 770.4 508.2 795.8 509.7 776.0 511.1 777.9 512.6 773.7 514.0 781.1 515.5 784.7 516.9 773.8 518.4 775.7 519.8 772.6 521.3 768.3 522.7 774.6 524.2 778.6 525.6 776.1 527.1 774.1 528.5 761.8 530.0 778.4 531.4 777.2 532.9 787.4 534.3 771.0 535.8 765.5 537.2 761.3 538.7 771.0 540.1 775.3 541.6 777.7 543.0 763.9 544.5 771.6 545.9 783.4 547.4 776.3 548.8 773.2 550.3 773.0 551.7 763.9 553.2 765.2 554.6 771.8 556.1 785.0 557.5 784.4 559.0 774.6 560.4 780.5 561.9 779.0 563.4 784.5 564.8 770.5 566.3 777.8 567.7 783.0 569.2 766.4 570.6 775.3 572.1 777.7 573.5 779.0 575.0 779.8 576.4 780.3 577.9 783.4 579.3 786.4 580.8 778.7 582.2 792.4 583.7 772.4 585.1 774.5 586.6 778.4 588.0 770.1 589.5 764.9 590.9 766.1 592.4 784.7 593.8 771.1 595.3 765.9 596.7 790.1 598.2 778.8 599.6 777.4 601.1 768.8 602.5 778.0 604.0 772.1 605.4 777.8 606.9 775.7 608.3 774.2 609.8 777.5 611.2 769.1 612.7 772.7 614.1 769.9 615.6 778.8 617.0 781.2 618.5 781.9 619.9 761.4 621.4 788.8 622.8 774.2 624.3 774.9 625.7 775.5 627.2 775.4 628.6 785.3 630.1 776.8 631.5 778.1 633.0 783.0 634.4 785.7 635.9 768.3 637.3 766.7 638.8 761.5 640.2 761.6 641.7 778.2 643.1 776.6 644.6 775.7 646.0 778.4 647.5 778.2 649.0 784.9 650.4 788.7 651.9 770.0 653.3 787.2 654.8 784.0 656.2 770.1 657.7 777.4 659.1 772.9 660.6 763.4 662.0 776.4 663.5 763.9 664.9 776.4 666.4 768.3 667.8 773.6 669.3 782.1 670.7 777.0 672.2 770.1 673.6 777.8 675.1 781.3 676.5 783.3 678.0 769.9 679.4 784.6 680.9 774.8 682.3 772.0 683.8 784.9 685.2 780.8 686.7 781.2 688.1 777.1 689.6 762.7 691.0 779.6 692.5 780.3 693.9 775.3 695.4 788.8 696.8 777.1 698.3 788.9 699.7 785.1 701.2 771.2 702.6 770.1 704.1 773.9 705.5 775.9 707.0 781.5 708.4 771.8 709.9 768.5 711.3 792.4 712.8 776.6 714.2 778.5 715.7 789.5 717.1 777.3 718.6 759.1 720.0 780.0 721.5 771.8 722.9 783.9 724.4 763.0 725.8 777.9 727.3 782.5 728.7 787.1 730.2 783.8 731.6 783.5 733.1 776.5 734.5 776.4 736.0 769.0 737.5 783.7 738.9 788.1 740.4 781.1 741.8 770.0 743.3 766.0 744.7 772.7 746.2 788.3 747.6 777.8 749.1 769.3 750.5 773.9 752.0 782.7 753.4 771.7 754.9 773.0 756.3 772.5 757.8 769.9 759.2 791.1 760.7 770.6 762.1 778.6 763.6 785.4 765.0 775.7 766.5 773.5 767.9 775.4 769.4 776.6 770.8 775.0 772.3 773.3 773.7 773.7 775.2 777.4 776.6 789.7 778.1 773.5 779.5 782.5 781.0 775.2 782.4 769.4 783.9 768.0 785.3 779.0 786.8 766.9 788.2 779.9 789.7 774.1 791.1 789.2 792.6 768.9 794.0 784.8 795.5 787.0 796.9 782.8 798.4 772.7 799.8 779.2 801.3 777.7 802.7 775.5 804.2 783.4 805.6 776.1 807.1 778.5 808.5 784.8 810.0 775.9 811.4 774.0 812.9 778.2 814.3 772.9 815.8 759.4 817.2 772.9 818.7 775.4 820.1 767.9 821.6 762.7 823.1 780.0 824.5 771.7 826.0 781.4 827.4 780.1 828.9 788.0 830.3 781.0 831.8 783.5 833.2 786.9 834.7 774.1 836.1 784.9 837.6 785.6 839.0 763.2 840.5 768.7 841.9 777.8 843.4 789.4 844.8 774.1 846.3 767.1 847.7 764.8 849.2 778.9 850.6 778.1 852.1 771.7 853.5 778.7 855.0 773.7 856.4 785.0 857.9 766.0 859.3 772.9 860.8 784.7 862.2 771.7 863.7 769.9 865.1 774.2 866.6 790.1 868.0 778.4 869.5 786.9 870.9 769.5 872.4 774.9 873.8 781.5 875.3 778.2 876.7 772.3 878.2 759.7 879.6 780.2 881.1 781.9 882.5 779.8 884.0 763.6 885.4 765.6 886.9 771.8 888.3 768.5 889.8 783.9 891.2 767.9 892.7 773.6 894.1 767.8 895.6 763.1 897.0 783.5 898.5 777.2 899.9 770.8 901.4 776.2 902.8 759.8 904.3 787.8 905.7 768.3 907.2 761.8 908.7 768.1 910.1 777.7 911.6 776.1 913.0 781.0 914.5 781.2 915.9 776.3 917.4 783.7 918.8 762.4 920.3 779.5 921.7 779.5 923.2 778.6 924.6 774.8 926.1 772.0 927.5 771.5 929.0 763.3 930.4 772.2 931.9 784.0 933.3 786.8 934.8 772.4 936.2 771.9 937.7 772.1 939.1 774.9 940.6 775.9 942.0 779.5 943.5 786.6 944.9 760.8 946.4 768.0 947.8 772.4 949.3 775.5 950.7 778.9 952.2 789.2 953.6 769.0 955.1 780.7 956.5 775.3 958.0 776.4 959.4 778.3 960.9 782.4 962.3 776.9 963.8 767.8 965.2 779.5 966.7 779.7 968.1 764.5 969.6 779.3 971.0 775.5 972.5 774.8 973.9 776.7 975.4 789.0 976.8 763.6 978.3 777.4 979.7 762.1 981.2 776.1 982.6 782.9 984.1 762.5 985.5 784.5 987.0 779.6 988.4 775.2 989.9 774.7 991.3 776.0 992.8 776.6 994.2 775.9 995.7 784.0 997.2 782.2 998.6 769.6 1000.1 784.4 1001.5 790.0 1003.0 788.5 1004.4 778.6 1005.9 764.7 1007.3 772.7 1008.8 775.7 1010.2 775.9 1011.7 765.6 1013.1 781.1 1014.6 783.4 1016.0 766.6 1017.5 771.1 1018.9 769.2 1020.4 777.1 1021.8 785.4 1023.3 761.3 1024.7 788.7 1026.2 784.3 1027.6 767.2 1029.1 789.2 1030.5 785.8 1032.0 781.1 1033.4 779.5 1034.9 770.3 1036.3 780.7 1037.8 770.9 1039.2 777.5 1040.7 784.9 1042.1 774.3 1043.6 772.3 1045.0 781.0 1046.5 784.2 1047.9 784.5 1049.4 775.4 1050.8 787.5 1052.3 789.4 1053.7 774.6 1055.2 781.5 1056.6 763.7 1058.1 775.9 1059.5 769.2 1061.0 778.0 1062.4 772.3 1063.9 759.4 1065.3 781.5 1066.8 769.3 1068.2 785.8 1069.7 787.8 1071.1 781.3 1072.6 776.3 1074.0 778.7 1075.5 766.2 1076.9 777.5 1078.4 784.1 1079.8 782.1 1081.3 769.1 1082.8 788.2 1084.2 780.7 1085.7 769.7 1087.1 780.2 1088.6 769.8 1090.0 773.2 1091.5 777.1 1092.9 790.7 1094.4 795.4 1095.8 765.5 1097.3 776.2 1098.7 775.5 1100.2 781.6 1101.6 779.4 1103.1 772.1 1104.5 779.0 1106.0 771.7 1107.4 770.4 1108.9 780.7 1110.3 777.8 1111.8 772.0 1113.2 781.3 1114.7 773.5 1116.1 770.6 1117.6 775.5 1119.0 781.0 1120.5 771.8 1121.9 787.2 1123.4 774.6 1124.8 778.6 1126.3 782.2 1127.7 776.4 1129.2 771.6 1130.6 774.8 1132.1 783.5 1133.5 785.7 1135.0 781.1 1136.4 772.9 1137.9 769.2 1139.3 772.1 1140.8 772.9 1142.2 778.1 1143.7 776.2 1145.1 770.6 1146.6 781.6 1148.0 771.0 1149.5 777.0 1150.9 770.8 1152.4 784.2 1153.8 779.4 1155.3 777.9 1156.7 784.6 1158.2 783.5 1159.6 766.9 1161.1 778.0 1162.5 768.8 1164.0 772.1 1165.4 773.2 1166.9 765.8 1168.3 767.3 1169.8 777.1 1171.3 777.1 1172.7 780.2 1174.2 775.2 1175.6 773.3 1177.1 773.9 1178.5 773.9 1180.0 770.5 1181.4 776.9 1182.9 769.2 1184.3 768.5 1185.8 764.9 1187.2 776.8 1188.7 770.8 1190.1 774.0 1191.6 776.5 1193.0 769.2 1194.5 777.2 1195.9 776.2 1197.4 775.6 1198.8 761.9 1200.3 783.3 1201.7 779.6 1203.2 780.2 1204.6 788.5 1206.1 768.3 1207.5 790.1 1209.0 774.4 1210.4 782.6 1211.9 784.6 1213.3 768.6 1214.8 778.1 1216.2 771.8 1217.7 779.3 1219.1 765.4 1220.6 788.5 1222.0 779.2 1223.5 774.3 1224.9 769.8 1226.4 785.9 1227.8 772.4 1229.3 781.9 1230.7 767.4 1232.2 780.1 1233.6 762.3 1235.1 778.6 1236.5 768.8 1238.0 768.5 1239.4 782.7 1240.9 781.0 1242.3 771.4 1243.8 770.3 1245.2 783.7 1246.7 764.7 1248.1 773.7 1249.6 770.5 1251.0 775.8 1252.5 775.3 1253.9 774.5 1255.4 766.8 1256.9 777.6 1258.3 779.2 1259.8 772.5 1261.2 788.3 1262.7 772.4 1264.1 775.7 1265.6 790.1 1267.0 773.7 1268.5 774.9 1269.9 764.9 1271.4 775.8 1272.8 772.6 1274.3 777.9 1275.7 767.9 1277.2 784.5 1278.6 779.6 1280.1 782.2 1281.5 773.1 1283.0 762.9 1284.4 778.2 1285.9 775.6 1287.3 772.2 1288.8 787.6 1290.2 777.9 1291.7 776.8 1293.1 779.1 1294.6 778.4 1296.0 778.9 1297.5 781.6 1298.9 776.7 1300.4 772.7 1301.8 769.9 1303.3 777.5 1304.7 779.4 1306.2 781.6 1307.6 770.0 1309.1 764.9 1310.5 765.4 1312.0 786.6 1313.4 780.3 1314.9 775.8 1316.3 773.7 1317.8 791.9 1319.2 781.7 1320.7 781.1 1322.1 772.0 1323.6 784.4 1325.0 773.0 1326.5 770.3 1327.9 785.9 1329.4 778.5 1330.8 781.0 1332.3 765.1 1333.7 773.1 1335.2 769.6 1336.6 777.4 1338.1 775.0 1339.5 775.6 1341.0 770.1 1342.4 785.9 1343.9 766.1 1345.4 778.9 1346.8 775.2 1348.3 783.1 1349.7 768.4 1351.2 783.0 1352.6 769.4 1354.1 777.3 1355.5 774.0 1357.0 792.9 1358.4 765.9 1359.9 770.5 1361.3 761.9 1362.8 767.5 1364.2 773.7 1365.7 772.3 1367.1 768.8 1368.6 769.9 1370.0 773.3 1371.5 775.7 1372.9 787.0 1374.4 777.8 1375.8 774.6 1377.3 772.2 1378.7 779.8 1380.2 784.5 1381.6 772.9 1383.1 781.9" fill="none" stroke="#ff0000" stroke-width="1.7" stroke-linejoin="round"/>
<path d="M131.0 415.5 132.5 421.7 133.9 423.7 135.4 423.7 136.8 427.4 138.3 416.9 139.7 421.4 141.2 417.2 142.6 412.4 144.1 415.8 145.5 419.6 147.0 415.0 148.4 418.3 149.9 424.0 151.3 421.7 152.8 421.7 154.2 420.8 155.7 418.6 157.1 411.8 158.6 423.5 160.0 413.5 161.5 420.4 162.9 419.2 164.4 420.2 165.8 420.7 167.3 418.5 168.7 423.2 170.2 415.2 171.6 422.8 173.1 414.0 174.5 424.2 176.0 418.3 177.4 421.4 178.9 425.3 180.3 413.1 181.8 419.3 183.2 422.2 184.7 423.2 186.1 424.7 187.6 422.4 189.0 422.1 190.5 420.9 191.9 421.4 193.4 420.9 194.8 423.5 196.3 421.3 197.7 422.7 199.2 425.2 200.6 424.0 202.1 425.7 203.5 436.6 205.0 448.9 206.4 455.7 207.9 464.6 209.3 479.9 210.8 496.9 212.2 508.3 213.7 521.1 215.2 536.8 216.6 545.2 218.1 566.3 219.5 573.6 221.0 585.6 222.4 604.3 223.9 609.3 225.3 623.6 226.8 637.8 228.2 649.3 229.7 664.5 231.1 680.2 232.6 692.6 234.0 702.2 235.5 713.2 236.9 724.0 238.4 732.1 239.8 728.9 241.3 746.6 242.7 749.8 244.2 753.7 245.6 752.3 247.1 759.8 248.5 763.4 250.0 758.7 251.4 777.1 252.9 777.7 254.3 772.2 255.8 765.7 257.2 783.2 258.7 778.2 260.1 781.8 261.6 771.0 263.0 792.5 264.5 773.5 265.9 789.2 267.4 759.5 268.8 776.8 270.3 775.1 271.7 755.6 273.2 769.7 274.6 765.3 276.1 763.9 277.5 768.8 279.0 765.7 280.4 776.9 281.9 778.0 283.3 776.5 284.8 768.3 286.2 770.9 287.7 787.1 289.1 771.9 290.6 774.3 292.0 770.1 293.5 778.5 294.9 781.1 296.4 780.5 297.8 777.7 299.3 779.8 300.8 772.9 302.2 779.2 303.7 767.1 305.1 775.3 306.6 781.0 308.0 766.9 309.5 780.3 310.9 776.9 312.4 765.3 313.8 761.7 315.3 762.1 316.7 766.7 318.2 776.9 319.6 776.4 321.1 783.7 322.5 791.5 324.0 770.9 325.4 759.2 326.9 763.3 328.3 759.3 329.8 769.3 331.2 770.4 332.7 784.1 334.1 763.2 335.6 772.6 337.0 772.6 338.5 773.5 339.9 770.2 341.4 790.3 342.8 773.1 344.3 774.8 345.7 779.8 347.2 776.1 348.6 787.8 350.1 765.4 351.5 773.0 353.0 770.7 354.4 773.9 355.9 781.2 357.3 769.9 358.8 759.7 360.2 775.0 361.7 766.6 363.1 779.1 364.6 776.2 366.0 790.2 367.5 778.5 368.9 768.3 370.4 777.2 371.8 782.5 373.3 775.1 374.7 774.2 376.2 772.5 377.6 771.4 379.1 767.6 380.5 783.5 382.0 777.5 383.4 763.8 384.9 782.6 386.3 774.7 387.8 776.2 389.3 775.7 390.7 783.4 392.2 757.8 393.6 774.4 395.1 778.7 396.5 773.5 398.0 762.2 399.4 765.0 400.9 776.1 402.3 785.2 403.8 760.0 405.2 770.1 406.7 776.9 408.1 776.4 409.6 778.7 411.0 783.4 412.5 780.5 413.9 763.7 415.4 772.5 416.8 766.5 418.3 774.7 419.7 786.1 421.2 782.5 422.6 792.2 424.1 785.2 425.5 783.0 427.0 782.5 428.4 769.8 429.9 773.9 431.3 779.4 432.8 780.6 434.2 779.5 435.7 767.9 437.1 767.0 438.6 766.4 440.0 788.8 441.5 774.1 442.9 781.2 444.4 774.5 445.8 773.7 447.3 773.2 448.7 772.0 450.2 775.5 451.6 780.9 453.1 765.3 454.5 775.2 456.0 772.7 457.4 771.6 458.9 779.8 460.3 786.8 461.8 764.8 463.2 776.0 464.7 782.9 466.1 781.2 467.6 762.7 469.0 778.6 470.5 771.8 471.9 771.5 473.4 780.5 474.9 767.2 476.3 776.6 477.8 781.2 479.2 770.0 480.7 767.4 482.1 790.9 483.6 767.3 485.0 784.7 486.5 769.7 487.9 776.2 489.4 771.1 490.8 775.9 492.3 776.0 493.7 766.6 495.2 773.6 496.6 781.7 498.1 768.9 499.5 758.1 501.0 776.8 502.4 768.4 503.9 777.4 505.3 771.7 506.8 768.8 508.2 772.7 509.7 777.3 511.1 777.0 512.6 764.8 514.0 764.3 515.5 765.2 516.9 783.1 518.4 775.8 519.8 767.6 521.3 772.4 522.7 784.3 524.2 765.9 525.6 771.2 527.1 780.0 528.5 779.8 530.0 779.2 531.4 767.6 532.9 774.3 534.3 756.3 535.8 771.5 537.2 769.7 538.7 769.9 540.1 783.1 541.6 772.8 543.0 772.7 544.5 779.5 545.9 787.7 547.4 768.0 548.8 779.7 550.3 772.0 551.7 762.6 553.2 770.0 554.6 776.7 556.1 772.4 557.5 771.0 559.0 774.2 560.4 772.2 561.9 772.2 563.4 766.6 564.8 778.7 566.3 757.2 567.7 775.7 569.2 768.6 570.6 780.1 572.1 765.7 573.5 756.7 575.0 778.0 576.4 782.0 577.9 760.6 579.3 777.4 580.8 776.4 582.2 767.0 583.7 779.0 585.1 767.9 586.6 781.9 588.0 783.3 589.5 771.3 590.9 771.9 592.4 775.0 593.8 760.1 595.3 769.4 596.7 774.4 598.2 791.1 599.6 783.4 601.1 776.3 602.5 767.9 604.0 777.2 605.4 775.0 606.9 764.3 608.3 772.4 609.8 764.3 611.2 770.6 612.7 749.8 614.1 785.1 615.6 770.4 617.0 766.2 618.5 769.4 619.9 761.8 621.4 772.9 622.8 784.3 624.3 776.4 625.7 771.5 627.2 773.2 628.6 775.0 630.1 771.3 631.5 769.8 633.0 774.4 634.4 776.2 635.9 770.1 637.3 776.4 638.8 765.2 640.2 760.7 641.7 759.9 643.1 776.8 644.6 768.4 646.0 773.7 647.5 768.3 649.0 771.3 650.4 775.4 651.9 763.5 653.3 769.2 654.8 785.1 656.2 788.7 657.7 775.3 659.1 775.6 660.6 769.7 662.0 766.1 663.5 780.0 664.9 783.3 666.4 777.7 667.8 778.3 669.3 768.9 670.7 783.0 672.2 776.4 673.6 769.8 675.1 782.3 676.5 768.2 678.0 767.1 679.4 775.4 680.9 766.7 682.3 766.6 683.8 779.1 685.2 775.7 686.7 770.9 688.1 779.2 689.6 775.5 691.0 780.4 692.5 780.6 693.9 780.6 695.4 766.4 696.8 781.0 698.3 774.8 699.7 777.9 701.2 774.9 702.6 780.2 704.1 773.4 705.5 770.8 707.0 778.7 708.4 771.7 709.9 765.7 711.3 772.8 712.8 772.0 714.2 771.6 715.7 772.9 717.1 769.1 718.6 768.7 720.0 795.7 721.5 767.3 722.9 776.5 724.4 775.3 725.8 769.3 727.3 769.9 728.7 765.9 730.2 764.7 731.6 786.2 733.1 765.8 734.5 767.2 736.0 781.0 737.5 763.7 738.9 784.1 740.4 773.4 741.8 784.2 743.3 767.3 744.7 768.8 746.2 779.6 747.6 771.1 749.1 768.3 750.5 780.6 752.0 773.2 753.4 767.2 754.9 773.5 756.3 777.2 757.8 771.6 759.2 790.5 760.7 777.8 762.1 773.0 763.6 774.8 765.0 780.6 766.5 769.6 767.9 771.3 769.4 773.6 770.8 771.3 772.3 770.7 773.7 752.1 775.2 768.3 776.6 772.5 778.1 780.7 779.5 766.5 781.0 773.5 782.4 771.1 783.9 774.0 785.3 787.1 786.8 784.6 788.2 786.1 789.7 765.8 791.1 767.2 792.6 778.3 794.0 765.4 795.5 780.2 796.9 798.7 798.4 765.2 799.8 781.0 801.3 774.7 802.7 777.5 804.2 772.2 805.6 760.9 807.1 770.0 808.5 767.1 810.0 763.8 811.4 772.8 812.9 775.7 814.3 766.6 815.8 778.4 817.2 774.6 818.7 777.6 820.1 777.1 821.6 769.8 823.1 792.0 824.5 778.5 826.0 781.3 827.4 771.9 828.9 774.4 830.3 780.6 831.8 768.3 833.2 776.5 834.7 785.8 836.1 772.2 837.6 775.7 839.0 765.7 840.5 775.6 841.9 777.2 843.4 774.5 844.8 778.4 846.3 772.0 847.7 772.9 849.2 782.7 850.6 781.2 852.1 776.8 853.5 787.8 855.0 774.3 856.4 774.0 857.9 779.8 859.3 791.8 860.8 772.3 862.2 772.7 863.7 773.0 865.1 770.5 866.6 765.9 868.0 779.4 869.5 781.9 870.9 778.9 872.4 777.4 873.8 771.4 875.3 779.4 876.7 776.6 878.2 769.8 879.6 776.1 881.1 767.1 882.5 772.2 884.0 768.8 885.4 780.1 886.9 769.5 888.3 777.6 889.8 764.3 891.2 776.0 892.7 779.4 894.1 773.9 895.6 768.6 897.0 769.6 898.5 775.9 899.9 774.2 901.4 771.1 902.8 764.0 904.3 763.7 905.7 771.1 907.2 768.2 908.7 775.7 910.1 779.2 911.6 774.6 913.0 769.7 914.5 771.7 915.9 778.3 917.4 762.1 918.8 779.8 920.3 779.3 921.7 769.8 923.2 774.4 924.6 774.3 926.1 782.7 927.5 778.7 929.0 768.9 930.4 751.0 931.9 789.0 933.3 780.2 934.8 770.4 936.2 762.1 937.7 770.0 939.1 765.7 940.6 784.1 942.0 779.7 943.5 761.0 944.9 778.4 946.4 770.3 947.8 776.6 949.3 768.7 950.7 759.5 952.2 762.2 953.6 773.8 955.1 780.1 956.5 784.4 958.0 784.1 959.4 773.4 960.9 775.9 962.3 778.2 963.8 773.3 965.2 782.9 966.7 770.5 968.1 776.6 969.6 774.9 971.0 776.6 972.5 785.3 973.9 776.7 975.4 779.9 976.8 776.7 978.3 775.9 979.7 785.0 981.2 771.3 982.6 774.1 984.1 780.7 985.5 778.4 987.0 775.2 988.4 773.1 989.9 765.0 991.3 776.1 992.8 770.7 994.2 782.5 995.7 777.8 997.2 757.8 998.6 776.5 1000.1 780.1 1001.5 773.7 1003.0 776.5 1004.4 777.2 1005.9 778.2 1007.3 767.2 1008.8 776.4 1010.2 784.3 1011.7 764.8 1013.1 778.4 1014.6 757.9 1016.0 777.8 1017.5 783.8 1018.9 781.5 1020.4 764.6 1021.8 789.8 1023.3 776.9 1024.7 783.2 1026.2 767.8 1027.6 768.5 1029.1 770.5 1030.5 775.8 1032.0 778.5 1033.4 764.9 1034.9 776.6 1036.3 780.8 1037.8 782.5 1039.2 771.8 1040.7 770.8 1042.1 785.3 1043.6 777.0 1045.0 771.1 1046.5 774.6 1047.9 771.5 1049.4 775.2 1050.8 771.6 1052.3 776.3 1053.7 773.6 1055.2 770.4 1056.6 768.6 1058.1 773.4 1059.5 778.0 1061.0 777.7 1062.4 771.2 1063.9 776.3 1065.3 789.2 1066.8 764.5 1068.2 776.3 1069.7 765.7 1071.1 779.3 1072.6 777.7 1074.0 778.0 1075.5 772.1 1076.9 770.8 1078.4 761.6 1079.8 771.4 1081.3 770.9 1082.8 766.6 1084.2 769.2 1085.7 785.5 1087.1 772.2 1088.6 769.1 1090.0 759.9 1091.5 773.9 1092.9 765.9 1094.4 782.8 1095.8 767.3 1097.3 768.0 1098.7 772.3 1100.2 766.7 1101.6 774.4 1103.1 780.5 1104.5 781.6 1106.0 777.6 1107.4 770.7 1108.9 786.9 1110.3 792.1 1111.8 780.5 1113.2 762.4 1114.7 777.2 1116.1 773.4 1117.6 776.3 1119.0 779.7 1120.5 782.2 1121.9 768.1 1123.4 776.9 1124.8 767.3 1126.3 775.8 1127.7 787.3 1129.2 775.0 1130.6 772.8 1132.1 784.6 1133.5 772.9 1135.0 767.9 1136.4 777.2 1137.9 767.2 1139.3 773.6 1140.8 771.4 1142.2 765.6 1143.7 789.0 1145.1 770.1 1146.6 783.6 1148.0 771.9 1149.5 779.5 1150.9 780.4 1152.4 789.1 1153.8 772.6 1155.3 770.7 1156.7 777.0 1158.2 773.0 1159.6 763.8 1161.1 780.5 1162.5 772.4 1164.0 770.7 1165.4 769.9 1166.9 779.3 1168.3 761.1 1169.8 776.0 1171.3 768.3 1172.7 777.8 1174.2 765.6 1175.6 791.0 1177.1 769.3 1178.5 770.7 1180.0 765.7 1181.4 780.5 1182.9 773.4 1184.3 762.2 1185.8 774.6 1187.2 773.6 1188.7 764.7 1190.1 777.0 1191.6 770.7 1193.0 773.7 1194.5 777.7 1195.9 767.7 1197.4 778.8 1198.8 766.4 1200.3 760.3 1201.7 768.3 1203.2 777.6 1204.6 773.5 1206.1 764.7 1207.5 782.8 1209.0 786.1 1210.4 768.1 1211.9 785.0 1213.3 774.1 1214.8 777.1 1216.2 787.2 1217.7 780.5 1219.1 756.5 1220.6 775.5 1222.0 762.5 1223.5 773.0 1224.9 771.6 1226.4 773.2 1227.8 781.2 1229.3 774.0 1230.7 772.8 1232.2 772.8 1233.6 778.4 1235.1 782.8 1236.5 796.0 1238.0 772.3 1239.4 774.2 1240.9 772.6 1242.3 769.8 1243.8 778.9 1245.2 770.8 1246.7 765.9 1248.1 780.3 1249.6 786.2 1251.0 775.7 1252.5 780.9 1253.9 776.6 1255.4 768.9 1256.9 778.1 1258.3 775.6 1259.8 769.5 1261.2 783.4 1262.7 776.2 1264.1 782.6 1265.6 778.7 1267.0 771.0 1268.5 771.6 1269.9 777.3 1271.4 775.7 1272.8 770.5 1274.3 778.2 1275.7 768.6 1277.2 777.6 1278.6 778.8 1280.1 756.4 1281.5 764.1 1283.0 775.6 1284.4 776.2 1285.9 782.5 1287.3 775.9 1288.8 771.3 1290.2 776.0 1291.7 767.1 1293.1 780.7 1294.6 786.0 1296.0 780.6 1297.5 769.7 1298.9 792.8 1300.4 767.9 1301.8 768.4 1303.3 781.7 1304.7 779.7 1306.2 771.5 1307.6 769.3 1309.1 777.2 1310.5 774.4 1312.0 775.6 1313.4 768.2 1314.9 765.3 1316.3 783.9 1317.8 780.6 1319.2 770.2 1320.7 784.3 1322.1 768.3 1323.6 762.7 1325.0 789.7 1326.5 781.3 1327.9 769.9 1329.4 770.8 1330.8 768.2 1332.3 767.6 1333.7 762.1 1335.2 771.2 1336.6 783.6 1338.1 781.3 1339.5 775.4 1341.0 767.6 1342.4 775.7 1343.9 773.6 1345.4 783.1 1346.8 789.0 1348.3 775.0 1349.7 768.7 1351.2 786.3 1352.6 764.1 1354.1 760.4 1355.5 779.6 1357.0 768.2 1358.4 777.8 1359.9 759.9 1361.3 771.8 1362.8 763.3 1364.2 769.7 1365.7 782.9 1367.1 778.0 1368.6 780.7 1370.0 782.6 1371.5 775.6 1372.9 767.1 1374.4 766.0 1375.8 779.1 1377.3 761.5 1378.7 784.0 1380.2 785.1 1381.6 783.8 1383.1 780.3" fill="none" stroke="#00ff00" stroke-width="1.7" stroke-linejoin="round"/>
</g>
<path d="M198.2 163.2L598.1 164.6" stroke="#3a3a3a" stroke-width="1.9" stroke-dasharray="16.3 9.6" fill="none"/>
<path d="M186.4 422L436.8 420.1" stroke="#222" stroke-width="1.8" stroke-dasharray="16.3 9.6" fill="none"/>
<rect x="131" y="46" width="1253" height="765.8" fill="none" stroke="#000" stroke-width="2"/>
<path d="M196.00 811.8V799.30M196.00 46.0V58.50M328.00 811.8V799.30M328.00 46.0V58.50M460.00 811.8V799.30M460.00 46.0V58.50M592.00 811.8V799.30M592.00 46.0V58.50M724.00 811.8V799.30M724.00 46.0V58.50M856.00 811.8V799.30M856.00 46.0V58.50M988.00 811.8V799.30M988.00 46.0V58.50M1120.00 811.8V799.30M1120.00 46.0V58.50M1252.00 811.8V799.30M1252.00 46.0V58.50M1384.00 811.8V799.30M1384.00 46.0V58.50M131.0 811.81H144.0M131.0 734.97H137.5M131.0 690.02H137.5M131.0 658.12H137.5M131.0 633.38H137.5M131.0 613.17H137.5M131.0 596.08H137.5M131.0 581.28H137.5M131.0 568.22H137.5M131.0 556.54H144.0M131.0 479.70H137.5M131.0 434.75H137.5M131.0 402.85H137.5M131.0 378.11H137.5M131.0 357.90H137.5M131.0 340.81H137.5M131.0 326.01H137.5M131.0 312.95H137.5M131.0 301.27H144.0M131.0 224.43H137.5M131.0 179.48H137.5M131.0 147.58H137.5M131.0 122.84H137.5M131.0 102.63H137.5M131.0 85.54H137.5M131.0 70.74H137.5M131.0 57.68H137.5M1384.0 71.30H1371.70M1384.0 198.94H1371.70M1384.0 326.58H1371.70M1384.0 454.22H1371.70M1384.0 581.86H1371.70M1384.0 709.50H1371.70" stroke="#000" stroke-width="1.6" fill="none"/>
<path d="M538.1 224.6L544.5 545" stroke="#000" stroke-width="1.3" fill="none"/>
<path d="M544.7 563.7L531.2 530.3L544.7 540.7L556.8 530.3Z" fill="#000"/>
<path d="M418 484.8L420.3 755" stroke="#000" stroke-width="1.3" fill="none"/>
<path d="M420.3 773.1L408.2 740.1L420.3 750L432.8 740.1Z" fill="#000"/>
<rect x="1007.5" y="195" width="201" height="128" fill="#fff" stroke="#000" stroke-width="1.3"/>
<path d="M1016.3 219H1118" stroke="#0000ff" stroke-width="2"/><path d="M1016.3 259.8H1118" stroke="#ff0000" stroke-width="2"/><path d="M1016.3 298.5H1118" stroke="#00ff00" stroke-width="2"/>
<text transform="translate(758.45,31.40)" font-size="37.4" text-anchor="middle" font-weight="bold" textLength="367.00" lengthAdjust="spacingAndGlyphs">LMS filter adaptation</text>
<g transform="translate(62.20,63.80) scale(1.0000,1.03)"><use href="#one" transform="translate(0.00,0) scale(0.01660)"/><text x="18.91" font-size="34">0</text></g>
<g transform="translate(54.60,318.80) scale(1.0000,1.03)"><use href="#one" transform="translate(0.00,0) scale(0.01660)"/><text x="18.91" font-size="34">0</text></g>
<g transform="translate(54.60,575.10) scale(1.0000,1.03)"><use href="#one" transform="translate(0.00,0) scale(0.01660)"/><text x="18.91" font-size="34">0</text></g>
<g transform="translate(54.60,830.10) scale(1.0000,1.03)"><use href="#one" transform="translate(0.00,0) scale(0.01660)"/><text x="18.91" font-size="34">0</text></g>
<text transform="translate(100.90,47.80) scale(1,1.03)" font-size="28">0</text>
<text transform="translate(92.10,302.70)" font-size="28">-</text>
<g transform="translate(101.40,302.70) scale(1.0000,1.03)"><use href="#one" transform="translate(0.00,0) scale(0.01367)"/></g>
<text transform="translate(92.10,559.40)" font-size="28">-</text>
<text transform="translate(102.26,559.40) scale(1,1.03)" font-size="28">2</text>
<text transform="translate(92.10,814.10)" font-size="28">-</text>
<text transform="translate(102.70,814.10) scale(1,1.03)" font-size="28">3</text>
<text transform="translate(196.00,859.90) scale(1,1.03)" font-size="34" text-anchor="middle">0</text>
<text transform="translate(328.00,859.90) scale(1,1.03)" font-size="34" text-anchor="middle">2</text>
<text transform="translate(460.00,859.90) scale(1,1.03)" font-size="34" text-anchor="middle">4</text>
<text transform="translate(592.00,859.90) scale(1,1.03)" font-size="34" text-anchor="middle">6</text>
<text transform="translate(724.00,859.90) scale(1,1.03)" font-size="34" text-anchor="middle">8</text>
<g transform="translate(856.00,859.90) scale(1.0000,1.03)"><use href="#one" transform="translate(-18.91,0) scale(0.01660)"/><text x="0.00" font-size="34">0</text></g>
<g transform="translate(988.00,859.90) scale(1.0000,1.03)"><use href="#one" transform="translate(-18.91,0) scale(0.01660)"/><text x="0.00" font-size="34">2</text></g>
<g transform="translate(1120.00,859.90) scale(1.0000,1.03)"><use href="#one" transform="translate(-18.91,0) scale(0.01660)"/><text x="0.00" font-size="34">4</text></g>
<g transform="translate(1252.00,859.90) scale(1.0000,1.03)"><use href="#one" transform="translate(-18.91,0) scale(0.01660)"/><text x="0.00" font-size="34">6</text></g>
<g transform="translate(1384.00,859.90) scale(1.0000,1.03)"><use href="#one" transform="translate(-18.91,0) scale(0.01660)"/><text x="0.00" font-size="34">8</text></g>
<text transform="translate(1397.10,84.80) scale(1,1.03)" font-size="34">90</text>
<text transform="translate(1397.10,212.44) scale(1,1.03)" font-size="34">80</text>
<text transform="translate(1397.10,340.08) scale(1,1.03)" font-size="34">70</text>
<text transform="translate(1397.10,467.72) scale(1,1.03)" font-size="34">60</text>
<text transform="translate(1397.10,595.36) scale(1,1.03)" font-size="34">50</text>
<text transform="translate(1397.10,723.00) scale(1,1.03)" font-size="34">40</text>
<text transform="translate(759.00,909.90)" font-size="37.4" text-anchor="middle">time (s)</text>
<text transform="translate(32.30,428.75) rotate(-90)" font-size="37.4" text-anchor="middle">rms signal (V)</text>
<text transform="translate(1486.40,428.25) rotate(-90)" font-size="37.4" text-anchor="middle">Intensity (dB re 20 uPa)</text>
<text transform="translate(982.90,177.50)" font-size="34">norm. learn rate</text>
<g transform="translate(1124.40,229.10) scale(1.0000,1.03)"><text x="0.00" font-size="30.6">0.00</text><use href="#one" transform="translate(59.56,0) scale(0.01494)"/></g>
<text transform="translate(1124.40,269.50) scale(1,1.03)" font-size="30.6">0.005</text>
<text transform="translate(1124.40,309.80) scale(1,1.03)" font-size="30.6">0.025</text>
<g transform="translate(496.70,207.10)"><text x="0.00" font-size="34">-3</text><use href="#one" transform="translate(30.23,0) scale(0.01660)"/><text x="58.59" font-size="34">dB</text></g>
<text transform="translate(362.10,465.10)" font-size="34">-28 dB</text>
</svg>
</body></html>
